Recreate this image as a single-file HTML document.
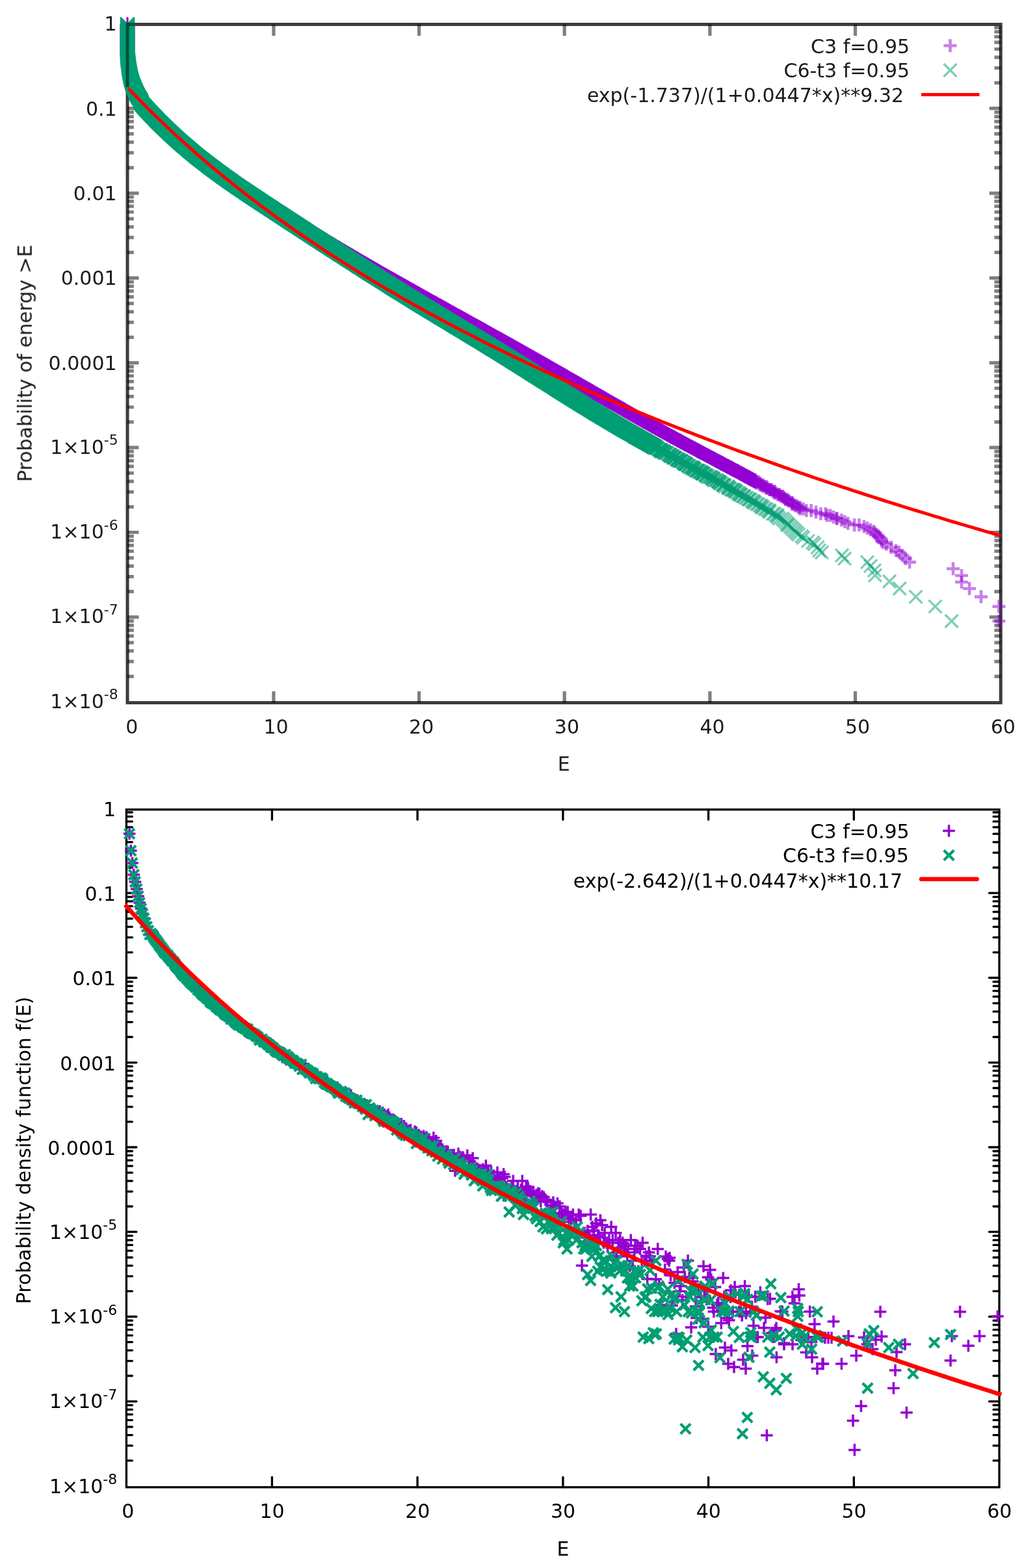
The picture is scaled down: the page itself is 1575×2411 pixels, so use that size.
<!DOCTYPE html>
<html lang="en"><head><meta charset="utf-8"><title>Energy distribution plots</title>
<style>html,body{margin:0;padding:0;background:#fff}body{width:1575px;height:2411px;overflow:hidden}svg{display:block}text{font-family:'DejaVu Sans','Liberation Sans',sans-serif;}</style>
</head><body>
<svg width="1575" height="2411" viewBox="0 0 1575 2411">
<defs>
<g id="pa1"><path d="M-10 0H10M0 -10V10" fill="none" stroke="#9400D3" stroke-width="4.6" stroke-opacity="0.50"/></g>
<g id="xa1"><path d="M-10 -10L10 10M-10 10L10 -10" fill="none" stroke="#009E73" stroke-width="3.3" stroke-opacity="0.50"/></g>
<g id="pa2"><path d="M-10 0H10M0 -10V10" fill="none" stroke="#9400D3" stroke-width="4.6" stroke-opacity="0.75"/></g>
<g id="xa2"><path d="M-10 -10L10 10M-10 10L10 -10" fill="none" stroke="#009E73" stroke-width="3.3" stroke-opacity="0.75"/></g>
<g id="pa3"><path d="M-10 0H10M0 -10V10" fill="none" stroke="#9400D3" stroke-width="4.6" stroke-opacity="0.90"/></g>
<g id="xa3"><path d="M-10 -10L10 10M-10 10L10 -10" fill="none" stroke="#009E73" stroke-width="3.3" stroke-opacity="0.90"/></g>
<g id="pb"><path d="M-9.3 0H9.3M0 -9.3V9.3" fill="none" stroke="#9400D3" stroke-width="3.5"/></g>
<g id="xb"><path d="M-6.2 -6.2L6.2 6.2M-6.2 6.2L6.2 -6.2" fill="none" stroke="#009E73" stroke-width="4.3" stroke-linecap="square"/></g>
<filter id="soft" x="-2%" y="-2%" width="104%" height="104%"><feGaussianBlur stdDeviation="0.6"/></filter>
</defs>
<rect width="1575" height="2411" fill="#fff"/>
<g id="plot1" filter="url(#soft)">
<g font-size="30" fill="#1a1a1a">
<text x="179.6" y="47.1" text-anchor="end">1</text>
<text x="179.6" y="177.5" text-anchor="end">0.1</text>
<text x="179.6" y="307.9" text-anchor="end">0.01</text>
<text x="179.6" y="438.2" text-anchor="end">0.001</text>
<text x="179.6" y="568.6" text-anchor="end">0.0001</text>
<text x="181.6" y="697.7" text-anchor="end">1×10<tspan font-size="21.9" dy="-13.5">-5</tspan></text>
<text x="181.6" y="828.0" text-anchor="end">1×10<tspan font-size="21.9" dy="-13.5">-6</tspan></text>
<text x="181.6" y="958.4" text-anchor="end">1×10<tspan font-size="21.9" dy="-13.5">-7</tspan></text>
<text x="181.6" y="1088.8" text-anchor="end">1×10<tspan font-size="21.9" dy="-13.5">-8</tspan></text>
<text x="202.9" y="1127.8" text-anchor="middle">0</text>
<text x="424.6" y="1127.8" text-anchor="middle">10</text>
<text x="648.2" y="1127.8" text-anchor="middle">20</text>
<text x="871.9" y="1127.8" text-anchor="middle">30</text>
<text x="1095.5" y="1127.8" text-anchor="middle">40</text>
<text x="1319.1" y="1127.8" text-anchor="middle">50</text>
<text x="1542.8" y="1127.8" text-anchor="middle">60</text>
<text x="867.2" y="1185" text-anchor="middle">E</text>
<text transform="translate(48.8,558.7) rotate(-90)" text-anchor="middle">Probability of energy &gt;E</text>
<text x="1399.2" y="82" text-anchor="end">C3 f=0.95</text>
<text x="1399.2" y="119" text-anchor="end">C6-t3 f=0.95</text>
<text x="1390" y="156.7" text-anchor="end">exp(-1.737)/(1+0.0447*x)**9.32</text>
</g>
<rect x="196.0" y="37.5" width="1343.2" height="1043.0" fill="none" stroke="#3c3c3c" stroke-width="5.00"/>
<path d="M420.9 1080.5v-17.5M420.9 37.5v17.5M644.6 1080.5v-17.5M644.6 37.5v17.5M868.2 1080.5v-17.5M868.2 37.5v17.5M1091.9 1080.5v-17.5M1091.9 37.5v17.5M1315.5 1080.5v-17.5M1315.5 37.5v17.5M196.0 127.4h9.8M1539.2 127.4h-9.8M196.0 104.5h9.8M1539.2 104.5h-9.8M196.0 88.2h9.8M1539.2 88.2h-9.8M196.0 75.5h9.8M1539.2 75.5h-9.8M196.0 65.2h9.8M1539.2 65.2h-9.8M196.0 56.5h9.8M1539.2 56.5h-9.8M196.0 48.9h9.8M1539.2 48.9h-9.8M196.0 42.3h9.8M1539.2 42.3h-9.8M196.0 166.7h17.5M1539.2 166.7h-17.5M196.0 257.8h9.8M1539.2 257.8h-9.8M196.0 234.8h9.8M1539.2 234.8h-9.8M196.0 218.6h9.8M1539.2 218.6h-9.8M196.0 205.9h9.8M1539.2 205.9h-9.8M196.0 195.6h9.8M1539.2 195.6h-9.8M196.0 186.9h9.8M1539.2 186.9h-9.8M196.0 179.3h9.8M1539.2 179.3h-9.8M196.0 172.6h9.8M1539.2 172.6h-9.8M196.0 297.1h17.5M1539.2 297.1h-17.5M196.0 388.2h9.8M1539.2 388.2h-9.8M196.0 365.2h9.8M1539.2 365.2h-9.8M196.0 348.9h9.8M1539.2 348.9h-9.8M196.0 336.3h9.8M1539.2 336.3h-9.8M196.0 326.0h9.8M1539.2 326.0h-9.8M196.0 317.2h9.8M1539.2 317.2h-9.8M196.0 309.7h9.8M1539.2 309.7h-9.8M196.0 303.0h9.8M1539.2 303.0h-9.8M196.0 427.4h17.5M1539.2 427.4h-17.5M196.0 518.6h9.8M1539.2 518.6h-9.8M196.0 495.6h9.8M1539.2 495.6h-9.8M196.0 479.3h9.8M1539.2 479.3h-9.8M196.0 466.7h9.8M1539.2 466.7h-9.8M196.0 456.3h9.8M1539.2 456.3h-9.8M196.0 447.6h9.8M1539.2 447.6h-9.8M196.0 440.1h9.8M1539.2 440.1h-9.8M196.0 433.4h9.8M1539.2 433.4h-9.8M196.0 557.8h17.5M1539.2 557.8h-17.5M196.0 648.9h9.8M1539.2 648.9h-9.8M196.0 626.0h9.8M1539.2 626.0h-9.8M196.0 609.7h9.8M1539.2 609.7h-9.8M196.0 597.0h9.8M1539.2 597.0h-9.8M196.0 586.7h9.8M1539.2 586.7h-9.8M196.0 578.0h9.8M1539.2 578.0h-9.8M196.0 570.4h9.8M1539.2 570.4h-9.8M196.0 563.8h9.8M1539.2 563.8h-9.8M196.0 688.2h17.5M1539.2 688.2h-17.5M196.0 779.3h9.8M1539.2 779.3h-9.8M196.0 756.3h9.8M1539.2 756.3h-9.8M196.0 740.1h9.8M1539.2 740.1h-9.8M196.0 727.4h9.8M1539.2 727.4h-9.8M196.0 717.1h9.8M1539.2 717.1h-9.8M196.0 708.4h9.8M1539.2 708.4h-9.8M196.0 700.8h9.8M1539.2 700.8h-9.8M196.0 694.1h9.8M1539.2 694.1h-9.8M196.0 818.5h17.5M1539.2 818.5h-17.5M196.0 909.7h9.8M1539.2 909.7h-9.8M196.0 886.7h9.8M1539.2 886.7h-9.8M196.0 870.4h9.8M1539.2 870.4h-9.8M196.0 857.8h9.8M1539.2 857.8h-9.8M196.0 847.5h9.8M1539.2 847.5h-9.8M196.0 838.7h9.8M1539.2 838.7h-9.8M196.0 831.2h9.8M1539.2 831.2h-9.8M196.0 824.5h9.8M1539.2 824.5h-9.8M196.0 948.9h17.5M1539.2 948.9h-17.5M196.0 1040.1h9.8M1539.2 1040.1h-9.8M196.0 1017.1h9.8M1539.2 1017.1h-9.8M196.0 1000.8h9.8M1539.2 1000.8h-9.8M196.0 988.2h9.8M1539.2 988.2h-9.8M196.0 977.8h9.8M1539.2 977.8h-9.8M196.0 969.1h9.8M1539.2 969.1h-9.8M196.0 961.6h9.8M1539.2 961.6h-9.8M196.0 954.9h9.8M1539.2 954.9h-9.8" fill="none" stroke="rgba(0,0,0,0.5)" stroke-width="5.20" stroke-linecap="butt"/>
<g id="c3a"><polygon points="206.0,37.5 206.0,60.0 206.0,86.0 208.5,106.0 211.0,119.0 213.5,128.0 216.0,134.0 218.5,140.0 221.0,145.5 223.5,150.0 226.0,153.5 228.5,160.2 232.5,164.7 236.5,169.0 240.5,173.3 244.5,177.5 248.5,181.7 252.5,185.8 256.5,189.8 260.5,193.7 264.5,197.6 268.5,201.4 272.5,205.2 276.5,208.9 280.5,212.6 284.5,216.2 288.5,219.7 292.5,223.2 296.5,226.6 300.5,230.0 304.5,233.4 308.5,236.7 312.5,239.8 316.5,242.9 320.5,245.9 324.5,248.9 328.5,251.8 332.5,254.7 336.5,257.6 340.5,260.4 344.5,263.2 348.5,266.0 352.5,268.8 356.5,271.5 360.5,274.2 364.5,276.8 368.5,279.5 372.5,282.1 376.5,284.7 380.5,287.3 384.5,289.8 388.5,292.4 392.5,294.9 396.5,297.4 400.5,299.9 404.5,302.4 408.5,304.9 412.5,307.4 416.5,309.9 420.5,312.3 424.5,314.8 428.5,317.3 432.5,319.7 436.5,322.2 440.5,324.7 444.5,327.1 448.5,329.6 452.5,332.1 456.5,334.5 460.5,337.0 464.5,339.6 468.5,342.2 472.5,344.8 476.5,347.4 480.5,350.0 484.5,352.7 488.5,355.3 492.5,358.1 496.5,360.5 500.5,363.0 504.5,365.4 508.5,367.9 512.5,370.3 516.5,372.8 520.5,375.2 524.5,377.6 528.5,380.0 532.5,382.4 536.5,384.8 540.5,387.1 544.5,389.5 548.5,391.9 552.5,394.2 556.5,396.6 560.5,398.9 564.5,401.3 568.5,403.6 572.5,405.9 576.5,408.2 580.5,410.6 584.5,412.9 588.5,415.2 592.5,417.5 596.5,419.8 600.5,422.1 604.5,424.3 608.5,426.6 612.5,428.9 616.5,431.2 620.5,433.4 624.5,435.7 628.5,437.9 632.5,440.2 636.5,442.5 640.5,444.7 644.5,446.9 648.5,449.2 652.5,451.4 656.5,453.7 660.5,455.9 664.5,458.1 668.5,460.4 672.5,462.6 676.5,464.8 680.5,467.0 684.5,469.3 688.5,471.5 692.5,473.7 696.5,475.9 700.5,478.1 704.5,480.4 708.5,482.6 712.5,484.8 716.5,487.0 720.5,489.2 724.5,491.4 728.5,493.7 732.5,495.9 736.5,498.1 740.5,500.3 744.5,502.5 748.5,504.7 752.5,506.9 756.5,509.2 760.5,511.4 764.5,513.6 768.5,515.8 772.5,518.1 776.5,520.3 780.5,522.5 784.5,524.7 788.5,527.0 792.5,529.2 796.5,531.4 800.5,533.7 804.5,535.9 808.5,538.1 812.5,540.4 816.5,542.6 820.5,544.9 824.5,547.1 828.5,549.4 832.5,551.6 836.5,553.9 840.5,556.2 844.5,558.4 848.5,560.7 852.5,563.0 856.5,565.3 860.5,567.6 864.5,569.8 868.5,572.1 872.5,574.4 876.5,576.7 880.5,579.0 884.5,581.3 888.5,583.6 892.5,585.9 896.5,588.2 900.5,590.5 904.5,592.8 908.5,595.1 912.5,597.4 916.5,599.7 920.5,602.0 924.5,604.3 928.5,606.6 932.5,608.9 936.5,611.2 940.5,613.5 944.5,615.8 948.5,618.1 952.5,620.4 956.5,622.7 960.5,624.9 964.5,627.2 968.5,629.5 972.5,631.8 976.5,634.1 980.5,636.3 984.5,638.6 988.5,640.8 992.5,643.1 996.5,645.3 1000.5,647.6 1004.5,649.8 1008.5,652.1 1012.5,654.3 1016.5,656.5 1020.5,658.8 1024.5,661.0 1028.5,663.2 1032.5,665.4 1036.5,667.6 1040.5,669.8 1044.5,672.0 1048.5,674.1 1052.5,676.3 1056.5,678.5 1060.5,680.6 1064.5,682.8 1068.5,684.9 1072.5,687.1 1076.5,689.2 1080.5,691.3 1084.5,693.5 1088.5,695.6 1092.5,697.7 1096.5,699.8 1100.5,701.9 1104.5,704.1 1108.5,706.2 1112.5,708.3 1116.5,710.4 1120.5,712.5 1124.5,714.6 1128.5,716.8 1132.5,718.9 1136.5,721.0 1140.5,723.1 1144.5,725.2 1148.5,727.4 1152.5,729.5 1156.5,731.7 1160.5,733.9 1164.5,736.0 1168.5,738.2 1171.6,740.0 1151.6,740.0 1148.5,738.2 1144.5,736.0 1140.5,733.9 1136.5,731.7 1132.5,729.5 1128.5,727.4 1124.5,725.2 1120.5,723.1 1116.5,721.0 1112.5,718.9 1108.5,716.8 1104.5,714.6 1100.5,712.5 1096.5,710.4 1092.5,708.3 1088.5,706.2 1084.5,704.1 1080.5,701.9 1076.5,699.8 1072.5,697.7 1068.5,695.6 1064.5,693.5 1060.5,691.3 1056.5,689.2 1052.5,687.1 1048.5,684.9 1044.5,682.8 1040.5,680.6 1036.5,678.5 1032.5,676.3 1028.5,674.1 1024.5,672.0 1020.5,669.8 1016.5,667.6 1012.5,665.4 1008.5,663.2 1004.5,661.0 1000.5,658.8 996.5,656.5 992.5,654.3 988.5,652.1 984.5,649.8 980.5,647.6 976.5,645.3 972.5,643.1 968.5,640.8 964.5,638.6 960.5,636.3 956.5,634.1 952.5,631.8 948.5,629.5 944.5,627.2 940.5,624.9 936.5,622.7 932.5,620.4 928.5,618.1 924.5,615.8 920.5,613.5 916.5,611.2 912.5,608.9 908.5,606.6 904.5,604.3 900.5,602.0 896.5,599.7 892.5,597.4 888.5,595.1 884.5,592.8 880.5,590.5 876.5,588.2 872.5,585.9 868.5,583.6 864.5,581.3 860.5,579.0 856.5,576.7 852.5,574.4 848.5,572.1 844.5,569.8 840.5,567.6 836.5,565.3 832.5,563.0 828.5,560.7 824.5,558.4 820.5,556.2 816.5,553.9 812.5,551.6 808.5,549.4 804.5,547.1 800.5,544.9 796.5,542.6 792.5,540.4 788.5,538.1 784.5,535.9 780.5,533.7 776.5,531.4 772.5,529.2 768.5,527.0 764.5,524.7 760.5,522.5 756.5,520.3 752.5,518.1 748.5,515.8 744.5,513.6 740.5,511.4 736.5,509.2 732.5,506.9 728.5,504.7 724.5,502.5 720.5,500.3 716.5,498.1 712.5,495.9 708.5,493.7 704.5,491.4 700.5,489.2 696.5,487.0 692.5,484.8 688.5,482.6 684.5,480.4 680.5,478.1 676.5,475.9 672.5,473.7 668.5,471.5 664.5,469.3 660.5,467.0 656.5,464.8 652.5,462.6 648.5,460.4 644.5,458.1 640.5,455.9 636.5,453.7 632.5,451.4 628.5,449.2 624.5,446.9 620.5,444.7 616.5,442.5 612.5,440.2 608.5,437.9 604.5,435.7 600.5,433.4 596.5,431.2 592.5,428.9 588.5,426.6 584.5,424.3 580.5,422.1 576.5,419.8 572.5,417.5 568.5,415.2 564.5,412.9 560.5,410.6 556.5,408.2 552.5,405.9 548.5,403.6 544.5,401.3 540.5,398.9 536.5,396.6 532.5,394.2 528.5,391.9 524.5,389.5 520.5,387.1 516.5,384.8 512.5,382.4 508.5,380.0 504.5,377.6 500.5,375.2 496.5,372.8 492.5,370.3 488.5,367.9 484.5,365.4 480.5,363.0 476.5,360.5 472.5,358.1 468.5,355.3 464.5,352.7 460.5,350.0 456.5,347.4 452.5,344.8 448.5,342.2 444.5,339.6 440.5,337.0 436.5,334.5 432.5,332.1 428.5,329.6 424.5,327.1 420.5,324.7 416.5,322.2 412.5,319.7 408.5,317.3 404.5,314.8 400.5,312.3 396.5,309.9 392.5,307.4 388.5,304.9 384.5,302.4 380.5,299.9 376.5,297.4 372.5,294.9 368.5,292.4 364.5,289.8 360.5,287.3 356.5,284.7 352.5,282.1 348.5,279.5 344.5,276.8 340.5,274.2 336.5,271.5 332.5,268.8 328.5,266.0 324.5,263.2 320.5,260.4 316.5,257.6 312.5,254.7 308.5,251.8 304.5,248.9 300.5,245.9 296.5,242.9 292.5,239.8 288.5,236.7 284.5,233.4 280.5,230.0 276.5,226.6 272.5,223.2 268.5,219.7 264.5,216.2 260.5,212.6 256.5,208.9 252.5,205.2 248.5,201.4 244.5,197.6 240.5,193.7 236.5,189.8 232.5,185.8 228.5,181.7 224.5,177.5 220.5,173.3 216.5,169.0 212.5,164.7 208.5,160.2 206.0,153.5 203.5,150.0 201.0,145.5 198.5,140.0 196.0,134.0 193.5,128.0 191.0,119.0 188.5,106.0 186.0,86.0 186.0,60.0 186.0,37.5" fill="#9400D3" stroke="#9400D3" stroke-width="3.2" stroke-linejoin="round"/><polygon points="196.0,27.5 196.0,50.0 196.0,76.0 198.5,96.0 201.0,109.0 203.5,118.0 206.0,124.0 208.5,130.0 211.0,135.5 213.5,140.0 216.0,143.5 218.5,150.2 222.5,154.7 226.5,159.0 230.5,163.3 234.5,167.5 238.5,171.7 242.5,175.8 246.5,179.8 250.5,183.7 254.5,187.6 258.5,191.4 262.5,195.2 266.5,198.9 270.5,202.6 274.5,206.2 278.5,209.7 282.5,213.2 286.5,216.6 290.5,220.0 294.5,223.4 298.5,226.7 302.5,229.8 306.5,232.9 310.5,235.9 314.5,238.9 318.5,241.8 322.5,244.7 326.5,247.6 330.5,250.4 334.5,253.2 338.5,256.0 342.5,258.8 346.5,261.5 350.5,264.2 354.5,266.8 358.5,269.5 362.5,272.1 366.5,274.7 370.5,277.3 374.5,279.8 378.5,282.4 382.5,284.9 386.5,287.4 390.5,289.9 394.5,292.4 398.5,294.9 402.5,297.4 406.5,299.9 410.5,302.3 414.5,304.8 418.5,307.3 422.5,309.7 426.5,312.2 430.5,314.7 434.5,317.1 438.5,319.6 442.5,322.1 446.5,324.5 450.5,327.0 454.5,329.6 458.5,332.2 462.5,334.8 466.5,337.4 470.5,340.0 474.5,342.7 478.5,345.3 482.5,348.1 486.5,350.5 490.5,353.0 494.5,355.4 498.5,357.9 502.5,360.3 506.5,362.8 510.5,365.2 514.5,367.6 518.5,370.0 522.5,372.4 526.5,374.8 530.5,377.1 534.5,379.5 538.5,381.9 542.5,384.2 546.5,386.6 550.5,388.9 554.5,391.3 558.5,393.6 562.5,395.9 566.5,398.2 570.5,400.6 574.5,402.9 578.5,405.2 582.5,407.5 586.5,409.8 590.5,412.1 594.5,414.3 598.5,416.6 602.5,418.9 606.5,421.2 610.5,423.4 614.5,425.7 618.5,427.9 622.5,430.2 626.5,432.5 630.5,434.7 634.5,436.9 638.5,439.2 642.5,441.4 646.5,443.7 650.5,445.9 654.5,448.1 658.5,450.4 662.5,452.6 666.5,454.8 670.5,457.0 674.5,459.3 678.5,461.5 682.5,463.7 686.5,465.9 690.5,468.1 694.5,470.4 698.5,472.6 702.5,474.8 706.5,477.0 710.5,479.2 714.5,481.4 718.5,483.7 722.5,485.9 726.5,488.1 730.5,490.3 734.5,492.5 738.5,494.7 742.5,496.9 746.5,499.2 750.5,501.4 754.5,503.6 758.5,505.8 762.5,508.1 766.5,510.3 770.5,512.5 774.5,514.7 778.5,517.0 782.5,519.2 786.5,521.4 790.5,523.7 794.5,525.9 798.5,528.1 802.5,530.4 806.5,532.6 810.5,534.9 814.5,537.1 818.5,539.4 822.5,541.6 826.5,543.9 830.5,546.2 834.5,548.4 838.5,550.7 842.5,553.0 846.5,555.3 850.5,557.6 854.5,559.8 858.5,562.1 862.5,564.4 866.5,566.7 870.5,569.0 874.5,571.3 878.5,573.6 882.5,575.9 886.5,578.2 890.5,580.5 894.5,582.8 898.5,585.1 902.5,587.4 906.5,589.7 910.5,592.0 914.5,594.3 918.5,596.6 922.5,598.9 926.5,601.2 930.5,603.5 934.5,605.8 938.5,608.1 942.5,610.4 946.5,612.7 950.5,614.9 954.5,617.2 958.5,619.5 962.5,621.8 966.5,624.1 970.5,626.3 974.5,628.6 978.5,630.8 982.5,633.1 986.5,635.3 990.5,637.6 994.5,639.8 998.5,642.1 1002.5,644.3 1006.5,646.5 1010.5,648.8 1014.5,651.0 1018.5,653.2 1022.5,655.4 1026.5,657.6 1030.5,659.8 1034.5,662.0 1038.5,664.1 1042.5,666.3 1046.5,668.5 1050.5,670.6 1054.5,672.8 1058.5,674.9 1062.5,677.1 1066.5,679.2 1070.5,681.3 1074.5,683.5 1078.5,685.6 1082.5,687.7 1086.5,689.8 1090.5,691.9 1094.5,694.1 1098.5,696.2 1102.5,698.3 1106.5,700.4 1110.5,702.5 1114.5,704.6 1118.5,706.8 1122.5,708.9 1126.5,711.0 1130.5,713.1 1134.5,715.2 1138.5,717.4 1142.5,719.5 1146.5,721.7 1150.5,723.9 1154.5,726.0 1158.5,728.2 1161.6,730.0 1161.6,750.0 1158.5,748.2 1154.5,746.0 1150.5,743.9 1146.5,741.7 1142.5,739.5 1138.5,737.4 1134.5,735.2 1130.5,733.1 1126.5,731.0 1122.5,728.9 1118.5,726.8 1114.5,724.6 1110.5,722.5 1106.5,720.4 1102.5,718.3 1098.5,716.2 1094.5,714.1 1090.5,711.9 1086.5,709.8 1082.5,707.7 1078.5,705.6 1074.5,703.5 1070.5,701.3 1066.5,699.2 1062.5,697.1 1058.5,694.9 1054.5,692.8 1050.5,690.6 1046.5,688.5 1042.5,686.3 1038.5,684.1 1034.5,682.0 1030.5,679.8 1026.5,677.6 1022.5,675.4 1018.5,673.2 1014.5,671.0 1010.5,668.8 1006.5,666.5 1002.5,664.3 998.5,662.1 994.5,659.8 990.5,657.6 986.5,655.3 982.5,653.1 978.5,650.8 974.5,648.6 970.5,646.3 966.5,644.1 962.5,641.8 958.5,639.5 954.5,637.2 950.5,634.9 946.5,632.7 942.5,630.4 938.5,628.1 934.5,625.8 930.5,623.5 926.5,621.2 922.5,618.9 918.5,616.6 914.5,614.3 910.5,612.0 906.5,609.7 902.5,607.4 898.5,605.1 894.5,602.8 890.5,600.5 886.5,598.2 882.5,595.9 878.5,593.6 874.5,591.3 870.5,589.0 866.5,586.7 862.5,584.4 858.5,582.1 854.5,579.8 850.5,577.6 846.5,575.3 842.5,573.0 838.5,570.7 834.5,568.4 830.5,566.2 826.5,563.9 822.5,561.6 818.5,559.4 814.5,557.1 810.5,554.9 806.5,552.6 802.5,550.4 798.5,548.1 794.5,545.9 790.5,543.7 786.5,541.4 782.5,539.2 778.5,537.0 774.5,534.7 770.5,532.5 766.5,530.3 762.5,528.1 758.5,525.8 754.5,523.6 750.5,521.4 746.5,519.2 742.5,516.9 738.5,514.7 734.5,512.5 730.5,510.3 726.5,508.1 722.5,505.9 718.5,503.7 714.5,501.4 710.5,499.2 706.5,497.0 702.5,494.8 698.5,492.6 694.5,490.4 690.5,488.1 686.5,485.9 682.5,483.7 678.5,481.5 674.5,479.3 670.5,477.0 666.5,474.8 662.5,472.6 658.5,470.4 654.5,468.1 650.5,465.9 646.5,463.7 642.5,461.4 638.5,459.2 634.5,456.9 630.5,454.7 626.5,452.5 622.5,450.2 618.5,447.9 614.5,445.7 610.5,443.4 606.5,441.2 602.5,438.9 598.5,436.6 594.5,434.3 590.5,432.1 586.5,429.8 582.5,427.5 578.5,425.2 574.5,422.9 570.5,420.6 566.5,418.2 562.5,415.9 558.5,413.6 554.5,411.3 550.5,408.9 546.5,406.6 542.5,404.2 538.5,401.9 534.5,399.5 530.5,397.1 526.5,394.8 522.5,392.4 518.5,390.0 514.5,387.6 510.5,385.2 506.5,382.8 502.5,380.3 498.5,377.9 494.5,375.4 490.5,373.0 486.5,370.5 482.5,368.1 478.5,365.3 474.5,362.7 470.5,360.0 466.5,357.4 462.5,354.8 458.5,352.2 454.5,349.6 450.5,347.0 446.5,344.5 442.5,342.1 438.5,339.6 434.5,337.1 430.5,334.7 426.5,332.2 422.5,329.7 418.5,327.3 414.5,324.8 410.5,322.3 406.5,319.9 402.5,317.4 398.5,314.9 394.5,312.4 390.5,309.9 386.5,307.4 382.5,304.9 378.5,302.4 374.5,299.8 370.5,297.3 366.5,294.7 362.5,292.1 358.5,289.5 354.5,286.8 350.5,284.2 346.5,281.5 342.5,278.8 338.5,276.0 334.5,273.2 330.5,270.4 326.5,267.6 322.5,264.7 318.5,261.8 314.5,258.9 310.5,255.9 306.5,252.9 302.5,249.8 298.5,246.7 294.5,243.4 290.5,240.0 286.5,236.6 282.5,233.2 278.5,229.7 274.5,226.2 270.5,222.6 266.5,218.9 262.5,215.2 258.5,211.4 254.5,207.6 250.5,203.7 246.5,199.8 242.5,195.8 238.5,191.7 234.5,187.5 230.5,183.3 226.5,179.0 222.5,174.7 218.5,170.2 216.0,163.5 213.5,160.0 211.0,155.5 208.5,150.0 206.0,144.0 203.5,138.0 201.0,129.0 198.5,116.0 196.0,96.0 196.0,70.0 196.0,47.5" fill="#9400D3" stroke="#9400D3" stroke-width="3.2" stroke-linejoin="round"/>
<use href="#pa2" x="1107.4" y="711.2"/><use href="#pa2" x="1109.9" y="711.2"/><use href="#pa2" x="1109.9" y="713.7"/><use href="#pa3" x="1112.3" y="713.7"/><use href="#pa1" x="1114.8" y="713.7"/><use href="#pa1" x="1114.8" y="716.1"/><use href="#pa3" x="1117.2" y="716.1"/><use href="#pa2" x="1119.7" y="716.1"/><use href="#pa1" x="1119.7" y="718.6"/><use href="#pa3" x="1122.2" y="718.6"/><use href="#pa1" x="1124.6" y="718.6"/><use href="#pa2" x="1124.6" y="721.0"/><use href="#pa3" x="1127.1" y="721.0"/><use href="#pa2" x="1129.6" y="723.5"/><use href="#pa3" x="1132.0" y="723.5"/><use href="#pa1" x="1134.5" y="723.5"/><use href="#pa2" x="1134.5" y="726.0"/><use href="#pa3" x="1136.9" y="726.0"/><use href="#pa2" x="1139.4" y="728.4"/><use href="#pa3" x="1141.9" y="728.4"/><use href="#pa2" x="1144.3" y="730.9"/><use href="#pa2" x="1146.8" y="730.9"/><use href="#pa2" x="1146.8" y="733.3"/><use href="#pa1" x="1149.2" y="733.3"/><use href="#pa2" x="1151.7" y="733.3"/><use href="#pa1" x="1151.7" y="735.8"/><use href="#pa2" x="1154.2" y="735.8"/><use href="#pa1" x="1156.6" y="735.8"/><use href="#pa2" x="1159.1" y="738.3"/><use href="#pa2" x="1161.5" y="738.3"/><use href="#pa1" x="1161.5" y="740.7"/><use href="#pa2" x="1164.0" y="740.7"/><use href="#pa1" x="1164.0" y="743.2"/><use href="#pa1" x="1166.5" y="740.7"/><use href="#pa2" x="1168.9" y="743.2"/><use href="#pa1" x="1168.9" y="745.7"/><use href="#pa2" x="1171.4" y="745.7"/><use href="#pa1" x="1173.8" y="745.7"/><use href="#pa1" x="1173.8" y="748.1"/><use href="#pa1" x="1176.3" y="748.1"/><use href="#pa1" x="1178.8" y="748.1"/><use href="#pa2" x="1178.8" y="750.6"/><use href="#pa1" x="1181.2" y="750.6"/><use href="#pa2" x="1183.7" y="753.0"/><use href="#pa2" x="1186.2" y="753.0"/><use href="#pa1" x="1188.6" y="755.5"/><use href="#pa2" x="1191.1" y="755.5"/><use href="#pa1" x="1191.1" y="758.0"/><use href="#pa1" x="1193.5" y="758.0"/><use href="#pa1" x="1196.0" y="760.4"/><use href="#pa2" x="1198.5" y="760.4"/><use href="#pa1" x="1200.9" y="762.9"/><use href="#pa2" x="1203.4" y="762.9"/><use href="#pa2" x="1205.8" y="765.3"/><use href="#pa2" x="1208.3" y="767.8"/><use href="#pa1" x="1210.8" y="767.8"/><use href="#pa2" x="1213.2" y="770.3"/><use href="#pa2" x="1218.1" y="772.7"/><use href="#pa1" x="1218.1" y="775.2"/><use href="#pa1" x="1220.6" y="775.2"/><use href="#pa1" x="1223.1" y="777.6"/><use href="#pa1" x="1225.5" y="777.6"/><use href="#pa1" x="1228.0" y="780.1"/><use href="#pa1" x="1230.5" y="780.1"/><use href="#pa1" x="1230.5" y="782.6"/><use href="#pa1" x="1235.4" y="782.6"/><use href="#pa1" x="1240.3" y="785.0"/><use href="#pa1" x="1247.7" y="785.0"/><use href="#pa1" x="1255.1" y="787.5"/><use href="#pa1" x="1262.4" y="789.9"/><use href="#pa1" x="1269.8" y="789.9"/><use href="#pa1" x="1272.3" y="792.4"/><use href="#pa1" x="1277.2" y="792.4"/><use href="#pa1" x="1282.1" y="794.9"/><use href="#pa2" x="1287.1" y="797.3"/><use href="#pa1" x="1294.4" y="799.8"/><use href="#pa1" x="1299.4" y="802.3"/><use href="#pa1" x="1304.3" y="804.7"/><use href="#pa1" x="1314.1" y="807.2"/><use href="#pa1" x="1321.5" y="807.2"/><use href="#pa1" x="1328.9" y="809.6"/><use href="#pa1" x="1333.8" y="812.1"/><use href="#pa1" x="1338.7" y="814.6"/><use href="#pa1" x="1343.7" y="817.0"/><use href="#pa1" x="1346.1" y="819.5"/><use href="#pa1" x="1348.6" y="821.9"/><use href="#pa1" x="1351.0" y="824.4"/><use href="#pa1" x="1353.5" y="826.9"/><use href="#pa1" x="1356.0" y="831.8"/><use href="#pa1" x="1358.4" y="834.2"/><use href="#pa1" x="1363.3" y="836.7"/><use href="#pa1" x="1370.7" y="841.6"/><use href="#pa1" x="1378.1" y="846.5"/><use href="#pa1" x="1383.0" y="849.0"/><use href="#pa1" x="1387.9" y="853.9"/><use href="#pa1" x="1392.9" y="858.9"/><use href="#pa1" x="1399.0" y="864.4"/><use href="#pa1" x="1466.0" y="874.5"/><use href="#pa1" x="1479.0" y="885.0"/><use href="#pa1" x="1479.0" y="895.0"/><use href="#pa1" x="1491.0" y="905.0"/><use href="#pa1" x="1509.0" y="917.6"/><use href="#pa1" x="1536.4" y="932.6"/><use href="#pa1" x="1536.4" y="955.0"/></g>
<g id="c6a"><polygon points="206.0,27.5 206.0,50.0 206.0,76.0 208.5,96.0 211.0,109.0 213.5,118.0 216.0,124.0 218.5,130.0 221.0,135.5 223.5,140.0 226.0,143.5 228.5,150.2 232.5,154.7 236.5,159.0 240.5,163.3 244.5,167.5 248.5,171.7 252.5,175.8 256.5,179.8 260.5,183.7 264.5,187.6 268.5,191.4 272.5,195.2 276.5,198.9 280.5,202.6 284.5,206.2 288.5,209.7 292.5,213.2 296.5,216.6 300.5,220.0 304.5,223.4 308.5,226.7 312.5,229.9 316.5,233.2 320.5,236.3 324.5,239.5 328.5,242.5 332.5,245.6 336.5,248.6 340.5,251.6 344.5,254.6 348.5,257.5 352.5,260.4 356.5,263.3 360.5,266.1 364.5,268.9 368.5,271.7 372.5,274.5 376.5,277.3 380.5,280.0 384.5,282.7 388.5,285.4 392.5,288.1 396.5,290.8 400.5,293.4 404.5,296.1 408.5,298.7 412.5,301.4 416.5,304.0 420.5,306.6 424.5,309.2 428.5,311.9 432.5,314.5 436.5,317.1 440.5,319.7 444.5,322.3 448.5,325.0 452.5,327.6 456.5,330.2 460.5,332.8 464.5,335.4 468.5,338.0 472.5,340.6 476.5,343.2 480.5,345.8 484.5,348.5 488.5,351.1 492.5,353.7 496.5,356.3 500.5,358.9 504.5,361.5 508.5,364.1 512.5,366.7 516.5,369.2 520.5,371.8 524.5,374.4 528.5,377.0 532.5,379.6 536.5,382.2 540.5,384.7 544.5,387.3 548.5,389.9 552.5,392.5 556.5,395.0 560.5,397.6 564.5,400.1 568.5,402.7 572.5,405.3 576.5,407.8 580.5,410.3 584.5,412.9 588.5,415.4 592.5,418.0 596.5,420.5 600.5,423.0 604.5,425.5 608.5,428.0 612.5,430.6 616.5,433.1 620.5,435.6 624.5,438.1 628.5,440.5 632.5,443.0 636.5,445.5 640.5,448.0 644.5,450.4 648.5,452.9 652.5,455.4 656.5,457.8 660.5,460.3 664.5,462.7 668.5,465.1 672.5,467.6 676.5,470.0 680.5,472.4 684.5,474.8 688.5,477.3 692.5,479.7 696.5,482.1 700.5,484.5 704.5,486.9 708.5,489.3 712.5,491.8 716.5,494.2 720.5,496.6 724.5,499.0 728.5,501.4 732.5,503.8 736.5,506.3 740.5,508.7 744.5,511.1 748.5,513.5 752.5,516.0 756.5,518.4 760.5,520.9 764.5,523.3 768.5,525.8 772.5,528.2 776.5,530.7 780.5,533.2 784.5,535.6 788.5,538.1 792.5,540.6 796.5,543.1 800.5,545.6 804.5,548.1 808.5,550.6 812.5,553.2 816.5,555.7 820.5,558.2 824.5,560.7 828.5,563.3 832.5,565.8 836.5,568.3 840.5,570.9 844.5,573.4 848.5,575.9 852.5,578.5 856.5,581.0 860.5,583.5 864.5,586.0 868.5,588.6 872.5,591.1 876.5,593.6 880.5,596.1 884.5,598.6 888.5,601.1 892.5,603.6 896.5,606.1 900.5,608.6 904.5,611.1 908.5,613.6 912.5,616.0 916.5,618.5 920.5,620.9 924.5,623.3 928.5,625.8 932.5,628.2 936.5,630.6 940.5,633.0 944.5,635.4 948.5,637.7 952.5,640.1 956.5,642.5 960.5,644.8 964.5,647.1 968.5,649.5 972.5,651.8 976.5,654.1 980.5,656.4 984.5,658.7 988.5,661.0 992.5,663.3 996.5,665.6 1000.5,667.8 1004.5,670.1 1008.5,672.4 1012.5,674.6 1016.5,676.8 996.5,696.8 992.5,694.6 988.5,692.4 984.5,690.1 980.5,687.8 976.5,685.6 972.5,683.3 968.5,681.0 964.5,678.7 960.5,676.4 956.5,674.1 952.5,671.8 948.5,669.5 944.5,667.1 940.5,664.8 936.5,662.5 932.5,660.1 928.5,657.7 924.5,655.4 920.5,653.0 916.5,650.6 912.5,648.2 908.5,645.8 904.5,643.3 900.5,640.9 896.5,638.5 892.5,636.0 888.5,633.6 884.5,631.1 880.5,628.6 876.5,626.1 872.5,623.6 868.5,621.1 864.5,618.6 860.5,616.1 856.5,613.6 852.5,611.1 848.5,608.6 844.5,606.0 840.5,603.5 836.5,601.0 832.5,598.5 828.5,595.9 824.5,593.4 820.5,590.9 816.5,588.3 812.5,585.8 808.5,583.3 804.5,580.7 800.5,578.2 796.5,575.7 792.5,573.2 788.5,570.6 784.5,568.1 780.5,565.6 776.5,563.1 772.5,560.6 768.5,558.1 764.5,555.6 760.5,553.2 756.5,550.7 752.5,548.2 748.5,545.8 744.5,543.3 740.5,540.9 736.5,538.4 732.5,536.0 728.5,533.5 724.5,531.1 720.5,528.7 716.5,526.3 712.5,523.8 708.5,521.4 704.5,519.0 700.5,516.6 696.5,514.2 692.5,511.8 688.5,509.3 684.5,506.9 680.5,504.5 676.5,502.1 672.5,499.7 668.5,497.3 664.5,494.8 660.5,492.4 656.5,490.0 652.5,487.6 648.5,485.1 644.5,482.7 640.5,480.3 636.5,477.8 632.5,475.4 628.5,472.9 624.5,470.4 620.5,468.0 616.5,465.5 612.5,463.0 608.5,460.5 604.5,458.1 600.5,455.6 596.5,453.1 592.5,450.6 588.5,448.0 584.5,445.5 580.5,443.0 576.5,440.5 572.5,438.0 568.5,435.4 564.5,432.9 560.5,430.3 556.5,427.8 552.5,425.3 548.5,422.7 544.5,420.1 540.5,417.6 536.5,415.0 532.5,412.5 528.5,409.9 524.5,407.3 520.5,404.7 516.5,402.2 512.5,399.6 508.5,397.0 504.5,394.4 500.5,391.8 496.5,389.2 492.5,386.7 488.5,384.1 484.5,381.5 480.5,378.9 476.5,376.3 472.5,373.7 468.5,371.1 464.5,368.5 460.5,365.8 456.5,363.2 452.5,360.6 448.5,358.0 444.5,355.4 440.5,352.8 436.5,350.2 432.5,347.6 428.5,345.0 424.5,342.3 420.5,339.7 416.5,337.1 412.5,334.5 408.5,331.9 404.5,329.2 400.5,326.6 396.5,324.0 392.5,321.4 388.5,318.7 384.5,316.1 380.5,313.4 376.5,310.8 372.5,308.1 368.5,305.4 364.5,302.7 360.5,300.0 356.5,297.3 352.5,294.5 348.5,291.7 344.5,288.9 340.5,286.1 336.5,283.3 332.5,280.4 328.5,277.5 324.5,274.6 320.5,271.6 316.5,268.6 312.5,265.6 308.5,262.5 304.5,259.5 300.5,256.3 296.5,253.2 292.5,249.9 288.5,246.7 284.5,243.4 280.5,240.0 276.5,236.6 272.5,233.2 268.5,229.7 264.5,226.2 260.5,222.6 256.5,218.9 252.5,215.2 248.5,211.4 244.5,207.6 240.5,203.7 236.5,199.8 232.5,195.8 228.5,191.7 224.5,187.5 220.5,183.3 216.5,179.0 212.5,174.7 208.5,170.2 206.0,163.5 203.5,160.0 201.0,155.5 198.5,150.0 196.0,144.0 193.5,138.0 191.0,129.0 188.5,116.0 186.0,96.0 186.0,70.0 186.0,47.5" fill="#009E73" stroke="#009E73" stroke-width="2.6" stroke-linejoin="round"/><polygon points="186.0,27.5 186.0,50.0 186.0,76.0 188.5,96.0 191.0,109.0 193.5,118.0 196.0,124.0 198.5,130.0 201.0,135.5 203.5,140.0 206.0,143.5 208.5,150.2 212.5,154.7 216.5,159.0 220.5,163.3 224.5,167.5 228.5,171.7 232.5,175.8 236.5,179.8 240.5,183.7 244.5,187.6 248.5,191.4 252.5,195.2 256.5,198.9 260.5,202.6 264.5,206.2 268.5,209.7 272.5,213.2 276.5,216.6 280.5,220.0 284.5,223.4 288.5,226.7 292.5,229.9 296.5,233.2 300.5,236.3 304.5,239.5 308.5,242.5 312.5,245.6 316.5,248.6 320.5,251.6 324.5,254.6 328.5,257.5 332.5,260.4 336.5,263.3 340.5,266.1 344.5,268.9 348.5,271.7 352.5,274.5 356.5,277.3 360.5,280.0 364.5,282.7 368.5,285.4 372.5,288.1 376.5,290.8 380.5,293.4 384.5,296.1 388.5,298.7 392.5,301.4 396.5,304.0 400.5,306.6 404.5,309.2 408.5,311.9 412.5,314.5 416.5,317.1 420.5,319.7 424.5,322.3 428.5,325.0 432.5,327.6 436.5,330.2 440.5,332.8 444.5,335.4 448.5,338.0 452.5,340.6 456.5,343.2 460.5,345.8 464.5,348.5 468.5,351.1 472.5,353.7 476.5,356.3 480.5,358.9 484.5,361.5 488.5,364.1 492.5,366.7 496.5,369.2 500.5,371.8 504.5,374.4 508.5,377.0 512.5,379.6 516.5,382.2 520.5,384.7 524.5,387.3 528.5,389.9 532.5,392.5 536.5,395.0 540.5,397.6 544.5,400.1 548.5,402.7 552.5,405.3 556.5,407.8 560.5,410.3 564.5,412.9 568.5,415.4 572.5,418.0 576.5,420.5 580.5,423.0 584.5,425.5 588.5,428.0 592.5,430.6 596.5,433.1 600.5,435.6 604.5,438.1 608.5,440.5 612.5,443.0 616.5,445.5 620.5,448.0 624.5,450.4 628.5,452.9 632.5,455.4 636.5,457.8 640.5,460.3 644.5,462.7 648.5,465.1 652.5,467.6 656.5,470.0 660.5,472.4 664.5,474.8 668.5,477.3 672.5,479.7 676.5,482.1 680.5,484.5 684.5,486.9 688.5,489.3 692.5,491.8 696.5,494.2 700.5,496.6 704.5,499.0 708.5,501.4 712.5,503.8 716.5,506.3 720.5,508.7 724.5,511.1 728.5,513.5 732.5,516.0 736.5,518.4 740.5,520.9 744.5,523.3 748.5,525.8 752.5,528.2 756.5,530.7 760.5,533.2 764.5,535.6 768.5,538.1 772.5,540.6 776.5,543.1 780.5,545.6 784.5,548.1 788.5,550.6 792.5,553.2 796.5,555.7 800.5,558.2 804.5,560.7 808.5,563.3 812.5,565.8 816.5,568.3 820.5,570.9 824.5,573.4 828.5,575.9 832.5,578.5 836.5,581.0 840.5,583.5 844.5,586.0 848.5,588.6 852.5,591.1 856.5,593.6 860.5,596.1 864.5,598.6 868.5,601.1 872.5,603.6 876.5,606.1 880.5,608.6 884.5,611.1 888.5,613.6 892.5,616.0 896.5,618.5 900.5,620.9 904.5,623.3 908.5,625.8 912.5,628.2 916.5,630.6 920.5,633.0 924.5,635.4 928.5,637.7 932.5,640.1 936.5,642.5 940.5,644.8 944.5,647.1 948.5,649.5 952.5,651.8 956.5,654.1 960.5,656.4 964.5,658.7 968.5,661.0 972.5,663.3 976.5,665.6 980.5,667.8 984.5,670.1 988.5,672.4 992.5,674.6 996.5,676.8 1016.5,696.8 1012.5,694.6 1008.5,692.4 1004.5,690.1 1000.5,687.8 996.5,685.6 992.5,683.3 988.5,681.0 984.5,678.7 980.5,676.4 976.5,674.1 972.5,671.8 968.5,669.5 964.5,667.1 960.5,664.8 956.5,662.5 952.5,660.1 948.5,657.7 944.5,655.4 940.5,653.0 936.5,650.6 932.5,648.2 928.5,645.8 924.5,643.3 920.5,640.9 916.5,638.5 912.5,636.0 908.5,633.6 904.5,631.1 900.5,628.6 896.5,626.1 892.5,623.6 888.5,621.1 884.5,618.6 880.5,616.1 876.5,613.6 872.5,611.1 868.5,608.6 864.5,606.0 860.5,603.5 856.5,601.0 852.5,598.5 848.5,595.9 844.5,593.4 840.5,590.9 836.5,588.3 832.5,585.8 828.5,583.3 824.5,580.7 820.5,578.2 816.5,575.7 812.5,573.2 808.5,570.6 804.5,568.1 800.5,565.6 796.5,563.1 792.5,560.6 788.5,558.1 784.5,555.6 780.5,553.2 776.5,550.7 772.5,548.2 768.5,545.8 764.5,543.3 760.5,540.9 756.5,538.4 752.5,536.0 748.5,533.5 744.5,531.1 740.5,528.7 736.5,526.3 732.5,523.8 728.5,521.4 724.5,519.0 720.5,516.6 716.5,514.2 712.5,511.8 708.5,509.3 704.5,506.9 700.5,504.5 696.5,502.1 692.5,499.7 688.5,497.3 684.5,494.8 680.5,492.4 676.5,490.0 672.5,487.6 668.5,485.1 664.5,482.7 660.5,480.3 656.5,477.8 652.5,475.4 648.5,472.9 644.5,470.4 640.5,468.0 636.5,465.5 632.5,463.0 628.5,460.5 624.5,458.1 620.5,455.6 616.5,453.1 612.5,450.6 608.5,448.0 604.5,445.5 600.5,443.0 596.5,440.5 592.5,438.0 588.5,435.4 584.5,432.9 580.5,430.3 576.5,427.8 572.5,425.3 568.5,422.7 564.5,420.1 560.5,417.6 556.5,415.0 552.5,412.5 548.5,409.9 544.5,407.3 540.5,404.7 536.5,402.2 532.5,399.6 528.5,397.0 524.5,394.4 520.5,391.8 516.5,389.2 512.5,386.7 508.5,384.1 504.5,381.5 500.5,378.9 496.5,376.3 492.5,373.7 488.5,371.1 484.5,368.5 480.5,365.8 476.5,363.2 472.5,360.6 468.5,358.0 464.5,355.4 460.5,352.8 456.5,350.2 452.5,347.6 448.5,345.0 444.5,342.3 440.5,339.7 436.5,337.1 432.5,334.5 428.5,331.9 424.5,329.2 420.5,326.6 416.5,324.0 412.5,321.4 408.5,318.7 404.5,316.1 400.5,313.4 396.5,310.8 392.5,308.1 388.5,305.4 384.5,302.7 380.5,300.0 376.5,297.3 372.5,294.5 368.5,291.7 364.5,288.9 360.5,286.1 356.5,283.3 352.5,280.4 348.5,277.5 344.5,274.6 340.5,271.6 336.5,268.6 332.5,265.6 328.5,262.5 324.5,259.5 320.5,256.3 316.5,253.2 312.5,249.9 308.5,246.7 304.5,243.4 300.5,240.0 296.5,236.6 292.5,233.2 288.5,229.7 284.5,226.2 280.5,222.6 276.5,218.9 272.5,215.2 268.5,211.4 264.5,207.6 260.5,203.7 256.5,199.8 252.5,195.8 248.5,191.7 244.5,187.5 240.5,183.3 236.5,179.0 232.5,174.7 228.5,170.2 226.0,163.5 223.5,160.0 221.0,155.5 218.5,150.0 216.0,144.0 213.5,138.0 211.0,129.0 208.5,116.0 206.0,96.0 206.0,70.0 206.0,47.5" fill="#009E73" stroke="#009E73" stroke-width="2.6" stroke-linejoin="round"/>
<use href="#xa3" x="977.0" y="669.4"/><use href="#xa2" x="977.0" y="671.8"/><use href="#xa3" x="979.4" y="671.8"/><use href="#xa3" x="981.9" y="671.8"/><use href="#xa2" x="981.9" y="674.3"/><use href="#xa3" x="984.4" y="674.3"/><use href="#xa2" x="986.8" y="674.3"/><use href="#xa3" x="986.8" y="676.7"/><use href="#xa3" x="989.3" y="676.7"/><use href="#xa2" x="991.7" y="676.7"/><use href="#xa3" x="991.7" y="679.2"/><use href="#xa3" x="994.2" y="679.2"/><use href="#xa3" x="996.7" y="681.7"/><use href="#xa3" x="999.1" y="681.7"/><use href="#xa2" x="999.1" y="684.1"/><use href="#xa3" x="1001.6" y="684.1"/><use href="#xa1" x="1004.0" y="684.1"/><use href="#xa3" x="1004.0" y="686.6"/><use href="#xa3" x="1006.5" y="686.6"/><use href="#xa1" x="1006.5" y="689.1"/><use href="#xa2" x="1009.0" y="686.6"/><use href="#xa3" x="1009.0" y="689.1"/><use href="#xa3" x="1011.4" y="689.1"/><use href="#xa3" x="1013.9" y="691.5"/><use href="#xa3" x="1016.4" y="691.5"/><use href="#xa2" x="1016.4" y="694.0"/><use href="#xa3" x="1018.8" y="694.0"/><use href="#xa3" x="1021.3" y="694.0"/><use href="#xa1" x="1021.3" y="696.4"/><use href="#xa3" x="1023.7" y="696.4"/><use href="#xa2" x="1026.2" y="696.4"/><use href="#xa3" x="1028.7" y="698.9"/><use href="#xa2" x="1031.1" y="698.9"/><use href="#xa2" x="1031.1" y="701.4"/><use href="#xa3" x="1033.6" y="701.4"/><use href="#xa1" x="1036.0" y="701.4"/><use href="#xa3" x="1036.0" y="703.8"/><use href="#xa3" x="1038.5" y="703.8"/><use href="#xa3" x="1041.0" y="706.3"/><use href="#xa3" x="1043.4" y="706.3"/><use href="#xa1" x="1043.4" y="708.7"/><use href="#xa3" x="1045.9" y="708.7"/><use href="#xa3" x="1048.3" y="708.7"/><use href="#xa3" x="1050.8" y="711.2"/><use href="#xa1" x="1053.3" y="711.2"/><use href="#xa3" x="1053.3" y="713.7"/><use href="#xa3" x="1055.7" y="713.7"/><use href="#xa3" x="1058.2" y="716.1"/><use href="#xa1" x="1060.6" y="716.1"/><use href="#xa1" x="1060.6" y="718.6"/><use href="#xa2" x="1063.1" y="718.6"/><use href="#xa3" x="1065.6" y="718.6"/><use href="#xa1" x="1065.6" y="721.0"/><use href="#xa3" x="1068.0" y="721.0"/><use href="#xa2" x="1070.5" y="723.5"/><use href="#xa3" x="1073.0" y="723.5"/><use href="#xa1" x="1075.4" y="723.5"/><use href="#xa1" x="1075.4" y="726.0"/><use href="#xa3" x="1077.9" y="726.0"/><use href="#xa1" x="1080.3" y="726.0"/><use href="#xa3" x="1080.3" y="728.4"/><use href="#xa2" x="1082.8" y="728.4"/><use href="#xa3" x="1085.3" y="730.9"/><use href="#xa1" x="1087.7" y="730.9"/><use href="#xa1" x="1087.7" y="733.3"/><use href="#xa1" x="1090.2" y="733.3"/><use href="#xa2" x="1092.6" y="733.3"/><use href="#xa1" x="1095.1" y="733.3"/><use href="#xa2" x="1095.1" y="735.8"/><use href="#xa2" x="1097.6" y="735.8"/><use href="#xa1" x="1097.6" y="738.3"/><use href="#xa1" x="1100.0" y="738.3"/><use href="#xa2" x="1102.5" y="738.3"/><use href="#xa3" x="1104.9" y="740.7"/><use href="#xa1" x="1107.4" y="740.7"/><use href="#xa2" x="1107.4" y="743.2"/><use href="#xa1" x="1109.9" y="743.2"/><use href="#xa3" x="1112.3" y="745.7"/><use href="#xa1" x="1114.8" y="745.7"/><use href="#xa1" x="1114.8" y="748.1"/><use href="#xa2" x="1119.7" y="748.1"/><use href="#xa1" x="1119.7" y="750.6"/><use href="#xa2" x="1122.2" y="750.6"/><use href="#xa1" x="1124.6" y="753.0"/><use href="#xa2" x="1127.1" y="753.0"/><use href="#xa1" x="1129.6" y="753.0"/><use href="#xa1" x="1129.6" y="755.5"/><use href="#xa2" x="1132.0" y="755.5"/><use href="#xa1" x="1134.5" y="758.0"/><use href="#xa1" x="1136.9" y="758.0"/><use href="#xa1" x="1136.9" y="760.4"/><use href="#xa2" x="1139.4" y="760.4"/><use href="#xa1" x="1141.9" y="762.9"/><use href="#xa2" x="1144.3" y="762.9"/><use href="#xa1" x="1146.8" y="765.3"/><use href="#xa1" x="1149.2" y="765.3"/><use href="#xa2" x="1151.7" y="767.8"/><use href="#xa1" x="1154.2" y="767.8"/><use href="#xa1" x="1156.6" y="770.3"/><use href="#xa1" x="1159.1" y="770.3"/><use href="#xa1" x="1159.1" y="772.7"/><use href="#xa1" x="1161.5" y="772.7"/><use href="#xa1" x="1164.0" y="775.2"/><use href="#xa1" x="1166.5" y="775.2"/><use href="#xa1" x="1168.9" y="777.6"/><use href="#xa1" x="1171.4" y="777.6"/><use href="#xa1" x="1171.4" y="780.1"/><use href="#xa1" x="1173.8" y="780.1"/><use href="#xa1" x="1176.3" y="782.6"/><use href="#xa1" x="1178.8" y="782.6"/><use href="#xa1" x="1181.2" y="785.0"/><use href="#xa1" x="1183.7" y="785.0"/><use href="#xa1" x="1183.7" y="787.5"/><use href="#xa1" x="1188.6" y="789.9"/><use href="#xa1" x="1191.1" y="789.9"/><use href="#xa1" x="1193.5" y="792.4"/><use href="#xa1" x="1196.0" y="792.4"/><use href="#xa1" x="1196.0" y="794.9"/><use href="#xa1" x="1198.5" y="797.3"/><use href="#xa1" x="1203.4" y="797.3"/><use href="#xa1" x="1205.8" y="799.8"/><use href="#xa1" x="1208.3" y="802.3"/><use href="#xa1" x="1210.8" y="804.7"/><use href="#xa1" x="1210.8" y="807.2"/><use href="#xa1" x="1213.2" y="807.2"/><use href="#xa1" x="1215.7" y="809.6"/><use href="#xa1" x="1218.1" y="812.1"/><use href="#xa1" x="1220.6" y="814.6"/><use href="#xa1" x="1223.1" y="817.0"/><use href="#xa1" x="1225.5" y="819.5"/><use href="#xa1" x="1228.0" y="821.9"/><use href="#xa1" x="1232.9" y="824.4"/><use href="#xa1" x="1235.4" y="826.9"/><use href="#xa1" x="1242.8" y="831.8"/><use href="#xa1" x="1250.1" y="834.2"/><use href="#xa1" x="1252.6" y="836.7"/><use href="#xa1" x="1257.5" y="841.6"/><use href="#xa1" x="1260.0" y="846.5"/><use href="#xa1" x="1264.0" y="849.5"/><use href="#xa1" x="1295.0" y="854.0"/><use href="#xa1" x="1299.0" y="859.0"/><use href="#xa1" x="1334.0" y="864.4"/><use href="#xa1" x="1339.0" y="870.3"/><use href="#xa1" x="1345.0" y="877.0"/><use href="#xa1" x="1346.0" y="884.6"/><use href="#xa1" x="1368.0" y="894.0"/><use href="#xa1" x="1383.6" y="905.0"/><use href="#xa1" x="1408.5" y="917.6"/><use href="#xa1" x="1438.5" y="932.6"/><use href="#xa1" x="1463.6" y="955.0"/></g>
<polyline points="197.3,135.9 202.9,141.7 208.5,147.5 214.1,153.3 219.7,158.9 225.3,164.5 230.8,170.1 236.4,175.6 242.0,181.0 247.6,186.4 253.2,191.8 258.8,197.0 264.4,202.3 270.0,207.4 275.6,212.6 281.2,217.6 286.8,222.7 292.4,227.6 297.9,232.6 303.5,237.5 309.1,242.3 314.7,247.1 320.3,251.9 325.9,256.6 331.5,261.2 337.1,265.9 342.7,270.5 348.3,275.0 353.9,279.5 359.4,284.0 365.0,288.4 370.6,292.8 376.2,297.2 381.8,301.5 387.4,305.8 393.0,310.1 398.6,314.3 404.2,318.5 409.8,322.6 415.4,326.7 420.9,330.8 426.5,334.9 432.1,338.9 437.7,342.9 443.3,346.9 448.9,350.8 454.5,354.7 460.1,358.6 465.7,362.5 471.3,366.3 476.9,370.1 482.5,373.9 488.0,377.6 493.6,381.3 499.2,385.0 504.8,388.7 510.4,392.3 516.0,395.9 521.6,399.5 527.2,403.1 532.8,406.6 538.4,410.1 544.0,413.6 549.5,417.1 555.1,420.6 560.7,424.0 566.3,427.4 571.9,430.8 577.5,434.1 583.1,437.5 588.7,440.8 594.3,444.1 599.9,447.4 605.5,450.6 611.1,453.9 616.6,457.1 622.2,460.3 627.8,463.5 633.4,466.6 639.0,469.8 644.6,472.9 650.2,476.0 655.8,479.1 661.4,482.2 667.0,485.2 672.6,488.2 678.1,491.3 683.7,494.3 689.3,497.2 694.9,500.2 700.5,503.1 706.1,506.1 711.7,509.0 717.3,511.9 722.9,514.8 728.5,517.6 734.1,520.5 739.7,523.3 745.2,526.2 750.8,529.0 756.4,531.8 762.0,534.5 767.6,537.3 773.2,540.0 778.8,542.8 784.4,545.5 790.0,548.2 795.6,550.9 801.2,553.6 806.7,556.2 812.3,558.9 817.9,561.5 823.5,564.2 829.1,566.8 834.7,569.4 840.3,572.0 845.9,574.5 851.5,577.1 857.1,579.6 862.7,582.2 868.2,584.7 873.8,587.2 879.4,589.7 885.0,592.2 890.6,594.7 896.2,597.2 901.8,599.6 907.4,602.1 913.0,604.5 918.6,606.9 924.2,609.3 929.8,611.7 935.3,614.1 940.9,616.5 946.5,618.8 952.1,621.2 957.7,623.5 963.3,625.9 968.9,628.2 974.5,630.5 980.1,632.8 985.7,635.1 991.3,637.4 996.8,639.7 1002.4,641.9 1008.0,644.2 1013.6,646.4 1019.2,648.7 1024.8,650.9 1030.4,653.1 1036.0,655.3 1041.6,657.5 1047.2,659.7 1052.8,661.9 1058.4,664.1 1063.9,666.2 1069.5,668.4 1075.1,670.5 1080.7,672.7 1086.3,674.8 1091.9,676.9 1097.5,679.0 1103.1,681.1 1108.7,683.2 1114.3,685.3 1119.9,687.4 1125.4,689.5 1131.0,691.5 1136.6,693.6 1142.2,695.6 1147.8,697.7 1153.4,699.7 1159.0,701.7 1164.6,703.7 1170.2,705.7 1175.8,707.7 1181.4,709.7 1187.0,711.7 1192.5,713.7 1198.1,715.7 1203.7,717.6 1209.3,719.6 1214.9,721.5 1220.5,723.5 1226.1,725.4 1231.7,727.3 1237.3,729.2 1242.9,731.2 1248.5,733.1 1254.0,735.0 1259.6,736.8 1265.2,738.7 1270.8,740.6 1276.4,742.5 1282.0,744.3 1287.6,746.2 1293.2,748.1 1298.8,749.9 1304.4,751.7 1310.0,753.6 1315.5,755.4 1321.1,757.2 1326.7,759.0 1332.3,760.8 1337.9,762.6 1343.5,764.4 1349.1,766.2 1354.7,768.0 1360.3,769.8 1365.9,771.6 1371.5,773.3 1377.1,775.1 1382.6,776.8 1388.2,778.6 1393.8,780.3 1399.4,782.1 1405.0,783.8 1410.6,785.5 1416.2,787.2 1421.8,788.9 1427.4,790.7 1433.0,792.4 1438.6,794.1 1444.1,795.7 1449.7,797.4 1455.3,799.1 1460.9,800.8 1466.5,802.5 1472.1,804.1 1477.7,805.8 1483.3,807.4 1488.9,809.1 1494.5,810.7 1500.1,812.4 1505.7,814.0 1511.2,815.6 1516.8,817.3 1522.4,818.9 1528.0,820.5 1533.6,822.1 1539.2,823.7" fill="none" stroke="#ff0000" stroke-width="5"/>
<path d="M196 35V134M198.5 37.5H207" stroke="#000" stroke-opacity="0.5" stroke-width="5" fill="none"/>
<use href="#pa1" x="1461.5" y="70.3"/><use href="#xa1" x="1461.5" y="108"/>
<path d="M1417 145.6H1506.5" stroke="#ff0000" stroke-width="5" fill="none"/>
</g>
<g id="plot2">
<g font-size="30" fill="#000">
<text x="178.2" y="1254.9" text-anchor="end">1</text>
<text x="178.2" y="1385.2" text-anchor="end">0.1</text>
<text x="178.2" y="1515.4" text-anchor="end">0.01</text>
<text x="178.2" y="1645.7" text-anchor="end">0.001</text>
<text x="178.2" y="1775.9" text-anchor="end">0.0001</text>
<text x="180.2" y="1904.9" text-anchor="end">1×10<tspan font-size="21.9" dy="-13.5">-5</tspan></text>
<text x="180.2" y="2035.1" text-anchor="end">1×10<tspan font-size="21.9" dy="-13.5">-6</tspan></text>
<text x="180.2" y="2165.3" text-anchor="end">1×10<tspan font-size="21.9" dy="-13.5">-7</tspan></text>
<text x="180.2" y="2295.6" text-anchor="end">1×10<tspan font-size="21.9" dy="-13.5">-8</tspan></text>
<text x="196.8" y="2333.6" text-anchor="middle">0</text>
<text x="418.6" y="2333.6" text-anchor="middle">10</text>
<text x="642.3" y="2333.6" text-anchor="middle">20</text>
<text x="866.1" y="2333.6" text-anchor="middle">30</text>
<text x="1089.8" y="2333.6" text-anchor="middle">40</text>
<text x="1313.5" y="2333.6" text-anchor="middle">50</text>
<text x="1537.3" y="2333.6" text-anchor="middle">60</text>
<text x="866" y="2392" text-anchor="middle">E</text>
<text transform="translate(46.7,1769) rotate(-90)" text-anchor="middle">Probability density function f(E)</text>
<text x="1398.7" y="1289.1" text-anchor="end">C3 f=0.95</text>
<text x="1397.8" y="1325.8" text-anchor="end">C6-t3 f=0.95</text>
<text x="1388" y="1364.8" text-anchor="end">exp(-2.642)/(1+0.0447*x)**10.17</text>
</g>
<rect x="194.4" y="1244.8" width="1342.6" height="1042.0" fill="none" stroke="#000" stroke-width="3.30"/>
<path d="M418.4 2286.8v-15.5M418.4 1244.8v15.5M642.1 2286.8v-15.5M642.1 1244.8v15.5M865.9 2286.8v-15.5M865.9 1244.8v15.5M1089.6 2286.8v-15.5M1089.6 1244.8v15.5M1313.3 2286.8v-15.5M1313.3 1244.8v15.5M194.4 1334.0h9.0M1537.0 1334.0h-9.0M194.4 1311.1h9.0M1537.0 1311.1h-9.0M194.4 1294.8h9.0M1537.0 1294.8h-9.0M194.4 1282.2h9.0M1537.0 1282.2h-9.0M194.4 1271.9h9.0M1537.0 1271.9h-9.0M194.4 1263.2h9.0M1537.0 1263.2h-9.0M194.4 1255.6h9.0M1537.0 1255.6h-9.0M194.4 1249.0h9.0M1537.0 1249.0h-9.0M194.4 1373.2h15.5M1537.0 1373.2h-15.5M194.4 1464.3h9.0M1537.0 1464.3h-9.0M194.4 1441.4h9.0M1537.0 1441.4h-9.0M194.4 1425.1h9.0M1537.0 1425.1h-9.0M194.4 1412.5h9.0M1537.0 1412.5h-9.0M194.4 1402.1h9.0M1537.0 1402.1h-9.0M194.4 1393.4h9.0M1537.0 1393.4h-9.0M194.4 1385.9h9.0M1537.0 1385.9h-9.0M194.4 1379.2h9.0M1537.0 1379.2h-9.0M194.4 1503.5h15.5M1537.0 1503.5h-15.5M194.4 1594.5h9.0M1537.0 1594.5h-9.0M194.4 1571.6h9.0M1537.0 1571.6h-9.0M194.4 1555.3h9.0M1537.0 1555.3h-9.0M194.4 1542.7h9.0M1537.0 1542.7h-9.0M194.4 1532.4h9.0M1537.0 1532.4h-9.0M194.4 1523.7h9.0M1537.0 1523.7h-9.0M194.4 1516.1h9.0M1537.0 1516.1h-9.0M194.4 1509.5h9.0M1537.0 1509.5h-9.0M194.4 1633.8h15.5M1537.0 1633.8h-15.5M194.4 1724.8h9.0M1537.0 1724.8h-9.0M194.4 1701.9h9.0M1537.0 1701.9h-9.0M194.4 1685.6h9.0M1537.0 1685.6h-9.0M194.4 1673.0h9.0M1537.0 1673.0h-9.0M194.4 1662.6h9.0M1537.0 1662.6h-9.0M194.4 1653.9h9.0M1537.0 1653.9h-9.0M194.4 1646.4h9.0M1537.0 1646.4h-9.0M194.4 1639.7h9.0M1537.0 1639.7h-9.0M194.4 1764.0h15.5M1537.0 1764.0h-15.5M194.4 1855.0h9.0M1537.0 1855.0h-9.0M194.4 1832.1h9.0M1537.0 1832.1h-9.0M194.4 1815.8h9.0M1537.0 1815.8h-9.0M194.4 1803.2h9.0M1537.0 1803.2h-9.0M194.4 1792.9h9.0M1537.0 1792.9h-9.0M194.4 1784.2h9.0M1537.0 1784.2h-9.0M194.4 1776.6h9.0M1537.0 1776.6h-9.0M194.4 1770.0h9.0M1537.0 1770.0h-9.0M194.4 1894.2h15.5M1537.0 1894.2h-15.5M194.4 1985.3h9.0M1537.0 1985.3h-9.0M194.4 1962.4h9.0M1537.0 1962.4h-9.0M194.4 1946.1h9.0M1537.0 1946.1h-9.0M194.4 1933.5h9.0M1537.0 1933.5h-9.0M194.4 1923.1h9.0M1537.0 1923.1h-9.0M194.4 1914.4h9.0M1537.0 1914.4h-9.0M194.4 1906.9h9.0M1537.0 1906.9h-9.0M194.4 1900.2h9.0M1537.0 1900.2h-9.0M194.4 2024.5h15.5M1537.0 2024.5h-15.5M194.4 2115.5h9.0M1537.0 2115.5h-9.0M194.4 2092.6h9.0M1537.0 2092.6h-9.0M194.4 2076.3h9.0M1537.0 2076.3h-9.0M194.4 2063.7h9.0M1537.0 2063.7h-9.0M194.4 2053.4h9.0M1537.0 2053.4h-9.0M194.4 2044.7h9.0M1537.0 2044.7h-9.0M194.4 2037.1h9.0M1537.0 2037.1h-9.0M194.4 2030.5h9.0M1537.0 2030.5h-9.0M194.4 2154.8h15.5M1537.0 2154.8h-15.5M194.4 2245.8h9.0M1537.0 2245.8h-9.0M194.4 2222.9h9.0M1537.0 2222.9h-9.0M194.4 2206.6h9.0M1537.0 2206.6h-9.0M194.4 2194.0h9.0M1537.0 2194.0h-9.0M194.4 2183.6h9.0M1537.0 2183.6h-9.0M194.4 2174.9h9.0M1537.0 2174.9h-9.0M194.4 2167.4h9.0M1537.0 2167.4h-9.0M194.4 2160.7h9.0M1537.0 2160.7h-9.0" fill="none" stroke="#000" stroke-width="3.30" stroke-linecap="round"/>
<g id="c3b"><use href="#pb" x="199.1" y="1282.0"/><use href="#pb" x="201.3" y="1308.0"/><use href="#pb" x="203.5" y="1327.0"/><use href="#pb" x="205.8" y="1345.0"/><use href="#pb" x="208.0" y="1356.0"/><use href="#pb" x="210.3" y="1367.0"/><use href="#pb" x="212.5" y="1378.0"/><use href="#pb" x="214.7" y="1388.0"/><use href="#pb" x="217.0" y="1397.0"/><use href="#pb" x="219.2" y="1405.0"/><use href="#pb" x="221.4" y="1412.0"/><use href="#pb" x="223.7" y="1419.0"/><use href="#pb" x="225.9" y="1425.0"/><use href="#pb" x="228.2" y="1431.0"/><use href="#pb" x="230.4" y="1437.0"/><use href="#pb" x="232.6" y="1435.5"/><use href="#pb" x="235.2" y="1438.0"/><use href="#pb" x="236.6" y="1441.3"/><use href="#pb" x="239.1" y="1444.6"/><use href="#pb" x="241.9" y="1448.3"/><use href="#pb" x="244.2" y="1451.2"/><use href="#pb" x="246.8" y="1454.2"/><use href="#pb" x="247.7" y="1457.8"/><use href="#pb" x="251.0" y="1460.8"/><use href="#pb" x="252.3" y="1463.0"/><use href="#pb" x="254.3" y="1465.7"/><use href="#pb" x="257.1" y="1468.5"/><use href="#pb" x="259.7" y="1471.2"/><use href="#pb" x="262.4" y="1474.5"/><use href="#pb" x="263.9" y="1476.9"/><use href="#pb" x="266.0" y="1479.5"/><use href="#pb" x="268.8" y="1482.1"/><use href="#pb" x="270.4" y="1485.5"/><use href="#pb" x="273.2" y="1488.0"/><use href="#pb" x="275.1" y="1490.0"/><use href="#pb" x="277.2" y="1493.2"/><use href="#pb" x="279.8" y="1495.9"/><use href="#pb" x="281.7" y="1498.0"/><use href="#pb" x="284.1" y="1500.2"/><use href="#pb" x="287.0" y="1502.9"/><use href="#pb" x="289.2" y="1504.5"/><use href="#pb" x="291.0" y="1507.6"/><use href="#pb" x="293.1" y="1509.6"/><use href="#pb" x="296.0" y="1512.7"/><use href="#pb" x="297.7" y="1514.3"/><use href="#pb" x="299.1" y="1517.1"/><use href="#pb" x="301.8" y="1518.9"/><use href="#pb" x="304.5" y="1521.0"/><use href="#pb" x="306.8" y="1524.2"/><use href="#pb" x="308.2" y="1525.0"/><use href="#pb" x="311.2" y="1528.3"/><use href="#pb" x="312.9" y="1529.4"/><use href="#pb" x="315.7" y="1533.1"/><use href="#pb" x="318.3" y="1533.9"/><use href="#pb" x="320.3" y="1536.9"/><use href="#pb" x="322.2" y="1537.7"/><use href="#pb" x="324.0" y="1539.3"/><use href="#pb" x="326.4" y="1542.2"/><use href="#pb" x="328.8" y="1544.2"/><use href="#pb" x="331.7" y="1546.4"/><use href="#pb" x="333.5" y="1546.7"/><use href="#pb" x="335.3" y="1549.9"/><use href="#pb" x="338.3" y="1552.0"/><use href="#pb" x="340.0" y="1553.6"/><use href="#pb" x="342.8" y="1555.9"/><use href="#pb" x="344.8" y="1557.6"/><use href="#pb" x="346.5" y="1559.0"/><use href="#pb" x="349.4" y="1561.5"/><use href="#pb" x="351.3" y="1564.0"/><use href="#pb" x="353.7" y="1566.6"/><use href="#pb" x="355.9" y="1566.7"/><use href="#pb" x="357.3" y="1567.8"/><use href="#pb" x="359.5" y="1569.9"/><use href="#pb" x="361.7" y="1570.1"/><use href="#pb" x="364.6" y="1572.4"/><use href="#pb" x="366.8" y="1574.5"/><use href="#pb" x="368.8" y="1576.1"/><use href="#pb" x="371.1" y="1577.7"/><use href="#pb" x="374.2" y="1581.0"/><use href="#pb" x="375.9" y="1579.3"/><use href="#pb" x="378.4" y="1582.3"/><use href="#pb" x="380.3" y="1586.1"/><use href="#pb" x="382.1" y="1585.6"/><use href="#pb" x="384.9" y="1587.4"/><use href="#pb" x="386.7" y="1590.6"/><use href="#pb" x="389.3" y="1591.6"/><use href="#pb" x="391.0" y="1592.6"/><use href="#pb" x="394.4" y="1595.2"/><use href="#pb" x="396.3" y="1595.0"/><use href="#pb" x="398.2" y="1597.3"/><use href="#pb" x="401.0" y="1597.9"/><use href="#pb" x="403.2" y="1598.6"/><use href="#pb" x="405.1" y="1601.0"/><use href="#pb" x="407.3" y="1603.2"/><use href="#pb" x="409.5" y="1604.4"/><use href="#pb" x="411.3" y="1606.3"/><use href="#pb" x="414.2" y="1606.2"/><use href="#pb" x="416.2" y="1608.6"/><use href="#pb" x="418.1" y="1610.8"/><use href="#pb" x="421.0" y="1611.8"/><use href="#pb" x="423.5" y="1613.6"/><use href="#pb" x="425.7" y="1614.2"/><use href="#pb" x="428.0" y="1617.2"/><use href="#pb" x="429.0" y="1618.1"/><use href="#pb" x="432.5" y="1617.7"/><use href="#pb" x="433.9" y="1622.3"/><use href="#pb" x="436.5" y="1623.3"/><use href="#pb" x="438.0" y="1626.5"/><use href="#pb" x="440.3" y="1629.3"/><use href="#pb" x="442.9" y="1627.6"/><use href="#pb" x="445.1" y="1628.1"/><use href="#pb" x="446.9" y="1630.8"/><use href="#pb" x="449.9" y="1628.7"/><use href="#pb" x="451.8" y="1634.5"/><use href="#pb" x="454.1" y="1634.5"/><use href="#pb" x="456.0" y="1636.5"/><use href="#pb" x="458.0" y="1636.7"/><use href="#pb" x="461.3" y="1640.2"/><use href="#pb" x="462.9" y="1637.9"/><use href="#pb" x="465.4" y="1640.1"/><use href="#pb" x="467.2" y="1643.5"/><use href="#pb" x="469.6" y="1642.2"/><use href="#pb" x="472.5" y="1643.2"/><use href="#pb" x="474.6" y="1648.7"/><use href="#pb" x="475.9" y="1648.7"/><use href="#pb" x="478.2" y="1651.1"/><use href="#pb" x="481.6" y="1649.7"/><use href="#pb" x="482.8" y="1655.8"/><use href="#pb" x="486.2" y="1654.0"/><use href="#pb" x="487.0" y="1657.4"/><use href="#pb" x="490.5" y="1658.3"/><use href="#pb" x="492.2" y="1656.9"/><use href="#pb" x="494.5" y="1659.7"/><use href="#pb" x="496.1" y="1659.5"/><use href="#pb" x="499.4" y="1664.2"/><use href="#pb" x="500.7" y="1661.4"/><use href="#pb" x="503.0" y="1663.7"/><use href="#pb" x="505.2" y="1668.2"/><use href="#pb" x="508.3" y="1670.6"/><use href="#pb" x="509.5" y="1669.0"/><use href="#pb" x="512.3" y="1671.8"/><use href="#pb" x="514.3" y="1672.6"/><use href="#pb" x="517.1" y="1676.8"/><use href="#pb" x="518.8" y="1672.0"/><use href="#pb" x="521.8" y="1677.4"/><use href="#pb" x="523.8" y="1678.9"/><use href="#pb" x="526.4" y="1680.9"/><use href="#pb" x="528.7" y="1681.6"/><use href="#pb" x="530.6" y="1681.6"/><use href="#pb" x="532.8" y="1682.1"/><use href="#pb" x="534.9" y="1688.9"/><use href="#pb" x="537.2" y="1690.8"/><use href="#pb" x="539.8" y="1684.1"/><use href="#pb" x="541.3" y="1688.4"/><use href="#pb" x="543.0" y="1690.6"/><use href="#pb" x="545.9" y="1693.4"/><use href="#pb" x="548.5" y="1691.8"/><use href="#pb" x="550.3" y="1692.5"/><use href="#pb" x="553.1" y="1694.3"/><use href="#pb" x="555.2" y="1701.8"/><use href="#pb" x="557.6" y="1699.3"/><use href="#pb" x="558.6" y="1699.3"/><use href="#pb" x="562.0" y="1700.5"/><use href="#pb" x="564.2" y="1699.9"/><use href="#pb" x="565.7" y="1703.8"/><use href="#pb" x="569.0" y="1707.1"/><use href="#pb" x="570.7" y="1706.5"/><use href="#pb" x="573.1" y="1708.4"/><use href="#pb" x="575.4" y="1708.4"/><use href="#pb" x="576.8" y="1712.6"/><use href="#pb" x="579.4" y="1709.4"/><use href="#pb" x="581.9" y="1712.1"/><use href="#pb" x="584.0" y="1708.6"/><use href="#pb" x="586.7" y="1713.8"/><use href="#pb" x="588.4" y="1710.8"/><use href="#pb" x="591.3" y="1713.9"/><use href="#pb" x="592.6" y="1716.8"/><use href="#pb" x="595.3" y="1716.2"/><use href="#pb" x="597.1" y="1713.9"/><use href="#pb" x="599.0" y="1718.5"/><use href="#pb" x="601.6" y="1722.6"/><use href="#pb" x="604.5" y="1723.2"/><use href="#pb" x="606.7" y="1722.7"/><use href="#pb" x="608.1" y="1724.8"/><use href="#pb" x="610.6" y="1727.5"/><use href="#pb" x="613.5" y="1730.1"/><use href="#pb" x="614.7" y="1728.5"/><use href="#pb" x="617.3" y="1728.0"/><use href="#pb" x="620.0" y="1736.3"/><use href="#pb" x="621.4" y="1731.3"/><use href="#pb" x="623.8" y="1734.7"/><use href="#pb" x="627.2" y="1741.4"/><use href="#pb" x="629.4" y="1738.7"/><use href="#pb" x="631.6" y="1737.5"/><use href="#pb" x="632.7" y="1744.4"/><use href="#pb" x="635.2" y="1745.5"/><use href="#pb" x="637.9" y="1739.9"/><use href="#pb" x="640.3" y="1741.0"/><use href="#pb" x="642.3" y="1750.4"/><use href="#pb" x="643.9" y="1745.0"/><use href="#pb" x="646.8" y="1747.7"/><use href="#pb" x="648.6" y="1753.8"/><use href="#pb" x="651.6" y="1746.7"/><use href="#pb" x="652.8" y="1750.6"/><use href="#pb" x="655.9" y="1748.6"/><use href="#pb" x="658.2" y="1756.6"/><use href="#pb" x="660.0" y="1751.9"/><use href="#pb" x="661.6" y="1757.1"/><use href="#pb" x="663.8" y="1759.8"/><use href="#pb" x="666.9" y="1749.4"/><use href="#pb" x="669.3" y="1757.1"/><use href="#pb" x="670.8" y="1754.3"/><use href="#pb" x="673.1" y="1761.3"/><use href="#pb" x="675.7" y="1763.2"/><use href="#pb" x="677.9" y="1765.5"/><use href="#pb" x="680.2" y="1767.2"/><use href="#pb" x="682.0" y="1776.1"/><use href="#pb" x="684.6" y="1774.5"/><use href="#pb" x="686.6" y="1770.3"/><use href="#pb" x="688.9" y="1771.1"/><use href="#pb" x="690.7" y="1782.0"/><use href="#pb" x="693.0" y="1776.1"/><use href="#pb" x="695.8" y="1776.1"/><use href="#pb" x="698.1" y="1775.7"/><use href="#pb" x="700.0" y="1800.2"/><use href="#pb" x="703.1" y="1780.7"/><use href="#pb" x="705.0" y="1773.7"/><use href="#pb" x="707.5" y="1778.9"/><use href="#pb" x="709.7" y="1783.3"/><use href="#pb" x="711.7" y="1779.4"/><use href="#pb" x="714.3" y="1785.2"/><use href="#pb" x="715.4" y="1784.3"/><use href="#pb" x="718.8" y="1776.5"/><use href="#pb" x="721.0" y="1784.7"/><use href="#pb" x="722.9" y="1786.1"/><use href="#pb" x="725.1" y="1793.8"/><use href="#pb" x="727.1" y="1780.7"/><use href="#pb" x="728.9" y="1794.4"/><use href="#pb" x="730.9" y="1799.0"/><use href="#pb" x="733.2" y="1796.6"/><use href="#pb" x="735.7" y="1798.4"/><use href="#pb" x="738.1" y="1799.6"/><use href="#pb" x="740.9" y="1810.3"/><use href="#pb" x="742.6" y="1797.8"/><use href="#pb" x="745.0" y="1800.8"/><use href="#pb" x="747.3" y="1792.2"/><use href="#pb" x="749.4" y="1802.7"/><use href="#pb" x="751.2" y="1800.2"/><use href="#pb" x="753.8" y="1813.3"/><use href="#pb" x="755.5" y="1802.1"/><use href="#pb" x="759.1" y="1808.1"/><use href="#pb" x="760.5" y="1814.9"/><use href="#pb" x="762.5" y="1814.9"/><use href="#pb" x="765.0" y="1802.7"/><use href="#pb" x="767.6" y="1810.3"/><use href="#pb" x="769.4" y="1822.5"/><use href="#pb" x="772.2" y="1811.8"/><use href="#pb" x="774.6" y="1805.4"/><use href="#pb" x="776.2" y="1809.6"/><use href="#pb" x="778.8" y="1825.3"/><use href="#pb" x="781.1" y="1828.3"/><use href="#pb" x="782.6" y="1829.3"/><use href="#pb" x="785.5" y="1830.4"/><use href="#pb" x="787.1" y="1824.4"/><use href="#pb" x="789.3" y="1815.7"/><use href="#pb" x="791.8" y="1841.9"/><use href="#pb" x="794.7" y="1831.4"/><use href="#pb" x="796.3" y="1826.3"/><use href="#pb" x="799.2" y="1837.0"/><use href="#pb" x="801.4" y="1829.3"/><use href="#pb" x="803.3" y="1815.7"/><use href="#pb" x="804.9" y="1835.9"/><use href="#pb" x="807.5" y="1845.9"/><use href="#pb" x="809.2" y="1824.4"/><use href="#pb" x="812.1" y="1826.3"/><use href="#pb" x="814.2" y="1831.4"/><use href="#pb" x="816.5" y="1833.6"/><use href="#pb" x="818.2" y="1838.2"/><use href="#pb" x="820.4" y="1832.5"/><use href="#pb" x="823.4" y="1845.9"/><use href="#pb" x="825.2" y="1837.0"/><use href="#pb" x="827.9" y="1834.7"/><use href="#pb" x="829.7" y="1835.9"/><use href="#pb" x="831.7" y="1847.3"/><use href="#pb" x="833.8" y="1839.4"/><use href="#pb" x="836.3" y="1840.7"/><use href="#pb" x="839.0" y="1844.6"/><use href="#pb" x="841.2" y="1847.3"/><use href="#pb" x="843.9" y="1867.5"/><use href="#pb" x="846.1" y="1863.6"/><use href="#pb" x="847.9" y="1853.3"/><use href="#pb" x="850.9" y="1848.8"/><use href="#pb" x="852.6" y="1854.9"/><use href="#pb" x="854.7" y="1883.8"/><use href="#pb" x="857.4" y="1850.2"/><use href="#pb" x="859.6" y="1871.7"/><use href="#pb" x="860.9" y="1854.9"/><use href="#pb" x="864.0" y="1865.5"/><use href="#pb" x="865.2" y="1867.5"/><use href="#pb" x="867.9" y="1867.5"/><use href="#pb" x="869.7" y="1863.6"/><use href="#pb" x="873.1" y="1863.6"/><use href="#pb" x="874.9" y="1873.9"/><use href="#pb" x="876.9" y="1878.6"/><use href="#pb" x="878.8" y="1873.9"/><use href="#pb" x="881.4" y="1867.5"/><use href="#pb" x="883.3" y="1889.4"/><use href="#pb" x="886.0" y="1876.2"/><use href="#pb" x="888.9" y="1892.5"/><use href="#pb" x="890.2" y="1867.5"/><use href="#pb" x="893.1" y="1869.6"/><use href="#pb" x="895.1" y="1945.9"/><use href="#pb" x="897.3" y="1895.7"/><use href="#pb" x="899.2" y="1895.7"/><use href="#pb" x="901.7" y="1902.8"/><use href="#pb" x="903.8" y="1892.5"/><use href="#pb" x="905.9" y="1899.2"/><use href="#pb" x="908.6" y="1867.5"/><use href="#pb" x="911.0" y="1886.5"/><use href="#pb" x="913.3" y="1892.5"/><use href="#pb" x="915.7" y="1906.7"/><use href="#pb" x="916.9" y="1881.1"/><use href="#pb" x="919.9" y="1899.2"/><use href="#pb" x="921.4" y="1902.8"/><use href="#pb" x="923.4" y="1876.2"/><use href="#pb" x="926.1" y="1883.8"/><use href="#pb" x="928.6" y="1910.9"/><use href="#pb" x="930.1" y="1895.7"/><use href="#pb" x="933.3" y="1910.9"/><use href="#pb" x="934.7" y="1915.4"/><use href="#pb" x="936.9" y="1906.7"/><use href="#pb" x="940.1" y="1886.5"/><use href="#pb" x="942.3" y="1906.7"/><use href="#pb" x="943.6" y="1931.7"/><use href="#pb" x="947.0" y="1895.7"/><use href="#pb" x="948.5" y="1925.8"/><use href="#pb" x="951.1" y="1910.9"/><use href="#pb" x="953.7" y="1906.7"/><use href="#pb" x="954.8" y="1925.8"/><use href="#pb" x="957.6" y="1910.9"/><use href="#pb" x="959.9" y="1915.4"/><use href="#pb" x="962.0" y="1915.4"/><use href="#pb" x="964.6" y="1931.7"/><use href="#pb" x="966.0" y="1920.4"/><use href="#pb" x="968.6" y="1947.0"/><use href="#pb" x="970.3" y="1906.7"/><use href="#pb" x="973.2" y="1938.4"/><use href="#pb" x="975.8" y="1925.8"/><use href="#pb" x="977.0" y="1915.4"/><use href="#pb" x="980.6" y="1915.4"/><use href="#pb" x="981.8" y="1954.6"/><use href="#pb" x="984.6" y="1920.4"/><use href="#pb" x="987.2" y="1938.4"/><use href="#pb" x="988.4" y="1910.9"/><use href="#pb" x="991.4" y="1938.4"/><use href="#pb" x="994.1" y="1931.7"/><use href="#pb" x="995.7" y="1966.5"/><use href="#pb" x="998.1" y="1925.8"/><use href="#pb" x="999.5" y="1931.7"/><use href="#pb" x="1002.5" y="1938.4"/><use href="#pb" x="1008.8" y="1967.0"/><use href="#pb" x="1011.7" y="1920.4"/><use href="#pb" x="1013.7" y="1974.7"/><use href="#pb" x="1016.1" y="2006.7"/><use href="#pb" x="1017.4" y="2007.4"/><use href="#pb" x="1022.7" y="1952.1"/><use href="#pb" x="1027.0" y="1935.8"/><use href="#pb" x="1029.2" y="1938.4"/><use href="#pb" x="1031.6" y="1961.0"/><use href="#pb" x="1033.6" y="2007.6"/><use href="#pb" x="1035.7" y="1993.9"/><use href="#pb" x="1037.4" y="1972.4"/><use href="#pb" x="1040.0" y="2051.0"/><use href="#pb" x="1042.2" y="1956.1"/><use href="#pb" x="1045.4" y="1985.4"/><use href="#pb" x="1046.9" y="1977.6"/><use href="#pb" x="1049.6" y="1999.1"/><use href="#pb" x="1051.8" y="1949.0"/><use href="#pb" x="1053.4" y="1963.6"/><use href="#pb" x="1055.6" y="1993.9"/><use href="#pb" x="1058.1" y="1938.4"/><use href="#pb" x="1060.2" y="1965.0"/><use href="#pb" x="1063.1" y="2041.1"/><use href="#pb" x="1065.4" y="1970.3"/><use href="#pb" x="1070.0" y="2008.8"/><use href="#pb" x="1071.4" y="2026.6"/><use href="#pb" x="1073.9" y="1984.6"/><use href="#pb" x="1077.9" y="1994.5"/><use href="#pb" x="1080.6" y="2027.9"/><use href="#pb" x="1083.2" y="1993.9"/><use href="#pb" x="1084.4" y="1993.9"/><use href="#pb" x="1087.6" y="1996.9"/><use href="#pb" x="1089.4" y="2039.9"/><use href="#pb" x="1092.2" y="1952.6"/><use href="#pb" x="1093.8" y="1967.4"/><use href="#pb" x="1096.8" y="2010.8"/><use href="#pb" x="1097.9" y="2016.8"/><use href="#pb" x="1100.9" y="2082.1"/><use href="#pb" x="1103.0" y="2006.1"/><use href="#pb" x="1104.7" y="2003.4"/><use href="#pb" x="1107.8" y="2016.8"/><use href="#pb" x="1109.3" y="2034.5"/><use href="#pb" x="1112.3" y="1965.0"/><use href="#pb" x="1113.9" y="1993.9"/><use href="#pb" x="1118.3" y="2026.4"/><use href="#pb" x="1121.3" y="2029.9"/><use href="#pb" x="1123.7" y="1994.5"/><use href="#pb" x="1124.9" y="2076.5"/><use href="#pb" x="1127.2" y="2016.8"/><use href="#pb" x="1130.1" y="1978.7"/><use href="#pb" x="1136.8" y="2016.8"/><use href="#pb" x="1139.2" y="2016.8"/><use href="#pb" x="1141.3" y="2022.6"/><use href="#pb" x="1143.0" y="2090.7"/><use href="#pb" x="1145.6" y="1977.6"/><use href="#pb" x="1147.5" y="2019.2"/><use href="#pb" x="1149.7" y="2069.7"/><use href="#pb" x="1151.6" y="1993.9"/><use href="#pb" x="1153.9" y="2016.8"/><use href="#pb" x="1156.6" y="2009.2"/><use href="#pb" x="1159.0" y="2038.4"/><use href="#pb" x="1161.7" y="1993.9"/><use href="#pb" x="1163.0" y="2056.0"/><use href="#pb" x="1165.5" y="2056.0"/><use href="#pb" x="1175.1" y="2041.8"/><use href="#pb" x="1177.4" y="2025.9"/><use href="#pb" x="1180.7" y="1997.5"/><use href="#pb" x="1187.5" y="2049.7"/><use href="#pb" x="1189.6" y="2056.0"/><use href="#pb" x="1192.6" y="2045.4"/><use href="#pb" x="1194.0" y="2042.1"/><use href="#pb" x="1200.8" y="2016.2"/><use href="#pb" x="1203.4" y="2016.8"/><use href="#pb" x="1206.0" y="2065.2"/><use href="#pb" x="1218.9" y="1993.9"/><use href="#pb" x="1228.5" y="1982.4"/><use href="#pb" x="1232.6" y="2060.4"/><use href="#pb" x="1243.4" y="2056.0"/><use href="#pb" x="1245.6" y="2016.8"/><use href="#pb" x="1248.0" y="2063.4"/><use href="#pb" x="1252.9" y="2036.0"/><use href="#pb" x="1282.0" y="2032.0"/><use href="#pb" x="1354.0" y="2017.0"/><use href="#pb" x="1476.6" y="2017.0"/><use href="#pb" x="1534.4" y="2024.0"/><use href="#pb" x="1506.6" y="2054.4"/><use href="#pb" x="1489.4" y="2069.2"/><use href="#pb" x="1462.0" y="2092.0"/><use href="#pb" x="1464.0" y="2054.4"/><use href="#pb" x="1392.0" y="2067.0"/><use href="#pb" x="1379.0" y="2079.0"/><use href="#pb" x="1377.0" y="2107.0"/><use href="#pb" x="1374.4" y="2134.4"/><use href="#pb" x="1394.4" y="2172.0"/><use href="#pb" x="1324.4" y="2162.0"/><use href="#pb" x="1312.0" y="2184.4"/><use href="#pb" x="1317.0" y="2084.4"/><use href="#pb" x="1294.4" y="2097.0"/><use href="#pb" x="1266.0" y="2097.0"/><use href="#pb" x="1269.0" y="2057.0"/><use href="#pb" x="1274.0" y="2057.0"/><use href="#pb" x="1279.0" y="2057.0"/><use href="#pb" x="1305.0" y="2054.4"/><use href="#pb" x="1329.0" y="2056.4"/><use href="#pb" x="1347.0" y="2060.0"/><use href="#pb" x="1356.0" y="2055.0"/><use href="#pb" x="1342.0" y="2074.4"/><use href="#pb" x="1334.0" y="2067.0"/><use href="#pb" x="1314.4" y="2229.4"/><use href="#pb" x="1179.4" y="2207.0"/><use href="#pb" x="1115.0" y="2072.0"/><use href="#pb" x="1120.0" y="2097.0"/><use href="#pb" x="1129.0" y="2102.0"/><use href="#pb" x="1147.0" y="2104.4"/><use href="#pb" x="1157.0" y="2084.4"/><use href="#pb" x="1194.4" y="2087.0"/><use href="#pb" x="1240.0" y="2079.4"/><use href="#pb" x="1249.0" y="2087.0"/><use href="#pb" x="1257.0" y="2104.4"/><use href="#pb" x="1265.0" y="2097.0"/><use href="#pb" x="1206.0" y="2067.0"/><use href="#pb" x="1219.0" y="2067.0"/><use href="#pb" x="1024.0" y="1932.0"/><use href="#pb" x="1030.0" y="1934.0"/><use href="#pb" x="1082.0" y="1947.0"/><use href="#pb" x="1089.0" y="1964.0"/><use href="#pb" x="1100.0" y="1979.0"/><use href="#pb" x="1124.0" y="1984.0"/><use href="#pb" x="1137.0" y="1991.0"/><use href="#pb" x="1169.4" y="1987.0"/><use href="#pb" x="1184.4" y="1997.0"/><use href="#pb" x="1229.4" y="1992.0"/><use href="#pb" x="1222.0" y="2004.0"/></g>
<g id="c6b"><use href="#xb" x="199.1" y="1282.0"/><use href="#xb" x="201.3" y="1308.0"/><use href="#xb" x="203.5" y="1327.0"/><use href="#xb" x="205.8" y="1345.0"/><use href="#xb" x="208.0" y="1356.0"/><use href="#xb" x="210.3" y="1367.0"/><use href="#xb" x="212.5" y="1378.0"/><use href="#xb" x="214.7" y="1388.0"/><use href="#xb" x="217.0" y="1397.0"/><use href="#xb" x="219.2" y="1405.0"/><use href="#xb" x="221.4" y="1412.0"/><use href="#xb" x="223.7" y="1419.0"/><use href="#xb" x="225.9" y="1425.0"/><use href="#xb" x="228.2" y="1431.0"/><use href="#xb" x="230.4" y="1437.0"/><use href="#xb" x="232.3" y="1435.5"/><use href="#xb" x="235.3" y="1438.4"/><use href="#xb" x="236.6" y="1441.5"/><use href="#xb" x="239.0" y="1444.8"/><use href="#xb" x="241.3" y="1447.8"/><use href="#xb" x="243.7" y="1450.9"/><use href="#xb" x="245.6" y="1454.3"/><use href="#xb" x="248.2" y="1457.3"/><use href="#xb" x="250.7" y="1460.8"/><use href="#xb" x="252.6" y="1463.8"/><use href="#xb" x="254.4" y="1465.9"/><use href="#xb" x="257.8" y="1468.7"/><use href="#xb" x="259.5" y="1471.4"/><use href="#xb" x="262.4" y="1474.2"/><use href="#xb" x="264.1" y="1476.9"/><use href="#xb" x="266.9" y="1478.9"/><use href="#xb" x="269.0" y="1482.2"/><use href="#xb" x="270.4" y="1485.0"/><use href="#xb" x="272.5" y="1487.4"/><use href="#xb" x="275.0" y="1489.9"/><use href="#xb" x="277.8" y="1493.0"/><use href="#xb" x="279.0" y="1495.3"/><use href="#xb" x="281.5" y="1498.6"/><use href="#xb" x="283.6" y="1500.6"/><use href="#xb" x="287.0" y="1503.5"/><use href="#xb" x="288.4" y="1505.2"/><use href="#xb" x="290.3" y="1507.3"/><use href="#xb" x="292.8" y="1510.0"/><use href="#xb" x="294.6" y="1512.0"/><use href="#xb" x="297.7" y="1514.8"/><use href="#xb" x="300.5" y="1516.8"/><use href="#xb" x="301.3" y="1518.1"/><use href="#xb" x="304.4" y="1521.9"/><use href="#xb" x="306.7" y="1522.9"/><use href="#xb" x="308.8" y="1525.5"/><use href="#xb" x="311.0" y="1528.5"/><use href="#xb" x="313.3" y="1530.3"/><use href="#xb" x="315.3" y="1531.7"/><use href="#xb" x="317.9" y="1534.4"/><use href="#xb" x="320.1" y="1535.7"/><use href="#xb" x="322.6" y="1538.1"/><use href="#xb" x="323.8" y="1540.9"/><use href="#xb" x="326.0" y="1542.4"/><use href="#xb" x="328.7" y="1544.1"/><use href="#xb" x="331.3" y="1545.4"/><use href="#xb" x="332.9" y="1548.2"/><use href="#xb" x="335.3" y="1549.4"/><use href="#xb" x="337.6" y="1552.2"/><use href="#xb" x="339.9" y="1553.3"/><use href="#xb" x="342.1" y="1554.5"/><use href="#xb" x="344.8" y="1557.4"/><use href="#xb" x="346.2" y="1559.6"/><use href="#xb" x="348.6" y="1560.8"/><use href="#xb" x="351.4" y="1562.7"/><use href="#xb" x="353.6" y="1563.2"/><use href="#xb" x="355.2" y="1567.0"/><use href="#xb" x="358.7" y="1567.9"/><use href="#xb" x="360.8" y="1569.7"/><use href="#xb" x="362.2" y="1572.2"/><use href="#xb" x="364.2" y="1573.5"/><use href="#xb" x="366.5" y="1575.9"/><use href="#xb" x="369.8" y="1576.6"/><use href="#xb" x="372.0" y="1577.7"/><use href="#xb" x="373.6" y="1579.7"/><use href="#xb" x="376.6" y="1581.1"/><use href="#xb" x="378.0" y="1582.3"/><use href="#xb" x="380.8" y="1582.2"/><use href="#xb" x="382.1" y="1585.8"/><use href="#xb" x="384.5" y="1587.5"/><use href="#xb" x="386.9" y="1588.7"/><use href="#xb" x="388.6" y="1589.5"/><use href="#xb" x="391.8" y="1590.8"/><use href="#xb" x="393.8" y="1592.9"/><use href="#xb" x="396.5" y="1594.4"/><use href="#xb" x="398.9" y="1599.0"/><use href="#xb" x="399.9" y="1599.1"/><use href="#xb" x="403.1" y="1598.1"/><use href="#xb" x="405.6" y="1602.1"/><use href="#xb" x="406.7" y="1601.9"/><use href="#xb" x="409.7" y="1603.3"/><use href="#xb" x="412.3" y="1606.0"/><use href="#xb" x="414.5" y="1607.0"/><use href="#xb" x="416.6" y="1610.3"/><use href="#xb" x="417.7" y="1609.9"/><use href="#xb" x="420.2" y="1611.5"/><use href="#xb" x="423.3" y="1614.9"/><use href="#xb" x="424.4" y="1615.9"/><use href="#xb" x="426.7" y="1617.7"/><use href="#xb" x="429.1" y="1617.7"/><use href="#xb" x="431.1" y="1618.7"/><use href="#xb" x="433.7" y="1621.4"/><use href="#xb" x="435.7" y="1623.1"/><use href="#xb" x="438.9" y="1621.5"/><use href="#xb" x="440.6" y="1626.5"/><use href="#xb" x="442.6" y="1624.8"/><use href="#xb" x="445.2" y="1627.9"/><use href="#xb" x="446.8" y="1629.4"/><use href="#xb" x="450.4" y="1630.5"/><use href="#xb" x="452.2" y="1632.8"/><use href="#xb" x="453.5" y="1635.0"/><use href="#xb" x="456.5" y="1635.0"/><use href="#xb" x="458.8" y="1636.3"/><use href="#xb" x="460.5" y="1639.6"/><use href="#xb" x="463.4" y="1636.8"/><use href="#xb" x="465.0" y="1644.4"/><use href="#xb" x="468.2" y="1642.5"/><use href="#xb" x="469.7" y="1643.8"/><use href="#xb" x="472.6" y="1646.0"/><use href="#xb" x="474.0" y="1646.7"/><use href="#xb" x="475.8" y="1649.8"/><use href="#xb" x="478.9" y="1649.3"/><use href="#xb" x="481.6" y="1650.9"/><use href="#xb" x="482.8" y="1653.9"/><use href="#xb" x="485.4" y="1658.3"/><use href="#xb" x="487.7" y="1655.4"/><use href="#xb" x="490.1" y="1658.5"/><use href="#xb" x="492.7" y="1657.8"/><use href="#xb" x="494.9" y="1657.9"/><use href="#xb" x="496.4" y="1659.6"/><use href="#xb" x="498.8" y="1664.4"/><use href="#xb" x="501.8" y="1667.2"/><use href="#xb" x="502.9" y="1665.9"/><use href="#xb" x="505.4" y="1668.3"/><use href="#xb" x="507.9" y="1669.8"/><use href="#xb" x="509.4" y="1671.0"/><use href="#xb" x="512.4" y="1671.9"/><use href="#xb" x="514.1" y="1673.3"/><use href="#xb" x="517.0" y="1675.2"/><use href="#xb" x="519.4" y="1678.8"/><use href="#xb" x="520.7" y="1681.1"/><use href="#xb" x="524.1" y="1678.7"/><use href="#xb" x="525.4" y="1678.4"/><use href="#xb" x="528.7" y="1681.6"/><use href="#xb" x="530.6" y="1680.5"/><use href="#xb" x="531.8" y="1686.1"/><use href="#xb" x="535.4" y="1687.6"/><use href="#xb" x="536.9" y="1688.6"/><use href="#xb" x="538.8" y="1688.8"/><use href="#xb" x="541.1" y="1691.2"/><use href="#xb" x="544.1" y="1691.7"/><use href="#xb" x="545.1" y="1696.0"/><use href="#xb" x="548.8" y="1691.8"/><use href="#xb" x="550.4" y="1696.6"/><use href="#xb" x="553.1" y="1697.0"/><use href="#xb" x="554.5" y="1696.5"/><use href="#xb" x="557.6" y="1701.6"/><use href="#xb" x="559.1" y="1699.0"/><use href="#xb" x="562.2" y="1705.4"/><use href="#xb" x="563.4" y="1698.6"/><use href="#xb" x="566.1" y="1713.7"/><use href="#xb" x="568.6" y="1703.6"/><use href="#xb" x="570.6" y="1706.5"/><use href="#xb" x="572.2" y="1710.9"/><use href="#xb" x="574.4" y="1707.2"/><use href="#xb" x="576.7" y="1715.4"/><use href="#xb" x="579.4" y="1711.6"/><use href="#xb" x="582.1" y="1710.4"/><use href="#xb" x="583.9" y="1716.0"/><use href="#xb" x="586.4" y="1717.7"/><use href="#xb" x="589.0" y="1721.2"/><use href="#xb" x="590.2" y="1724.3"/><use href="#xb" x="592.7" y="1722.9"/><use href="#xb" x="595.5" y="1725.4"/><use href="#xb" x="597.4" y="1722.4"/><use href="#xb" x="600.2" y="1724.6"/><use href="#xb" x="601.9" y="1724.8"/><use href="#xb" x="603.9" y="1724.6"/><use href="#xb" x="606.3" y="1726.1"/><use href="#xb" x="608.7" y="1729.0"/><use href="#xb" x="610.2" y="1737.5"/><use href="#xb" x="613.2" y="1733.4"/><use href="#xb" x="615.4" y="1737.3"/><use href="#xb" x="617.2" y="1739.7"/><use href="#xb" x="619.8" y="1743.2"/><use href="#xb" x="622.5" y="1741.9"/><use href="#xb" x="623.6" y="1745.7"/><use href="#xb" x="626.0" y="1740.6"/><use href="#xb" x="627.9" y="1746.2"/><use href="#xb" x="631.2" y="1743.4"/><use href="#xb" x="633.2" y="1746.0"/><use href="#xb" x="634.8" y="1743.9"/><use href="#xb" x="638.3" y="1747.9"/><use href="#xb" x="640.5" y="1758.3"/><use href="#xb" x="642.2" y="1752.2"/><use href="#xb" x="643.7" y="1751.9"/><use href="#xb" x="645.9" y="1756.0"/><use href="#xb" x="649.0" y="1756.6"/><use href="#xb" x="651.5" y="1749.9"/><use href="#xb" x="652.6" y="1760.1"/><use href="#xb" x="655.2" y="1761.0"/><use href="#xb" x="658.1" y="1765.2"/><use href="#xb" x="660.0" y="1764.5"/><use href="#xb" x="662.4" y="1761.6"/><use href="#xb" x="664.2" y="1769.6"/><use href="#xb" x="666.6" y="1762.3"/><use href="#xb" x="669.5" y="1771.4"/><use href="#xb" x="671.7" y="1770.3"/><use href="#xb" x="673.3" y="1777.7"/><use href="#xb" x="676.2" y="1775.3"/><use href="#xb" x="677.5" y="1771.1"/><use href="#xb" x="680.5" y="1782.0"/><use href="#xb" x="682.9" y="1777.7"/><use href="#xb" x="685.3" y="1777.3"/><use href="#xb" x="687.2" y="1776.9"/><use href="#xb" x="688.9" y="1784.3"/><use href="#xb" x="690.6" y="1788.6"/><use href="#xb" x="694.1" y="1785.2"/><use href="#xb" x="696.5" y="1784.7"/><use href="#xb" x="697.7" y="1790.6"/><use href="#xb" x="700.3" y="1780.7"/><use href="#xb" x="702.2" y="1789.1"/><use href="#xb" x="704.6" y="1791.7"/><use href="#xb" x="706.4" y="1787.6"/><use href="#xb" x="709.3" y="1798.4"/><use href="#xb" x="711.5" y="1791.1"/><use href="#xb" x="713.7" y="1805.4"/><use href="#xb" x="715.9" y="1801.5"/><use href="#xb" x="718.0" y="1796.6"/><use href="#xb" x="721.2" y="1799.6"/><use href="#xb" x="722.5" y="1796.6"/><use href="#xb" x="725.3" y="1806.7"/><use href="#xb" x="726.6" y="1799.6"/><use href="#xb" x="729.4" y="1815.7"/><use href="#xb" x="731.2" y="1804.7"/><use href="#xb" x="733.2" y="1811.0"/><use href="#xb" x="736.4" y="1805.4"/><use href="#xb" x="738.7" y="1808.8"/><use href="#xb" x="740.6" y="1805.4"/><use href="#xb" x="742.5" y="1823.5"/><use href="#xb" x="745.7" y="1809.6"/><use href="#xb" x="747.5" y="1813.3"/><use href="#xb" x="749.3" y="1806.0"/><use href="#xb" x="751.5" y="1814.1"/><use href="#xb" x="754.1" y="1826.3"/><use href="#xb" x="756.0" y="1830.4"/><use href="#xb" x="757.9" y="1826.3"/><use href="#xb" x="760.1" y="1830.4"/><use href="#xb" x="763.2" y="1823.5"/><use href="#xb" x="764.9" y="1823.5"/><use href="#xb" x="766.7" y="1829.3"/><use href="#xb" x="769.2" y="1824.4"/><use href="#xb" x="771.3" y="1839.4"/><use href="#xb" x="774.5" y="1828.3"/><use href="#xb" x="776.9" y="1831.4"/><use href="#xb" x="779.0" y="1827.3"/><use href="#xb" x="781.1" y="1839.4"/><use href="#xb" x="783.2" y="1863.6"/><use href="#xb" x="785.6" y="1830.4"/><use href="#xb" x="787.6" y="1833.6"/><use href="#xb" x="789.3" y="1838.2"/><use href="#xb" x="792.2" y="1853.3"/><use href="#xb" x="794.1" y="1834.7"/><use href="#xb" x="797.2" y="1840.7"/><use href="#xb" x="798.2" y="1839.4"/><use href="#xb" x="800.3" y="1844.6"/><use href="#xb" x="803.3" y="1858.2"/><use href="#xb" x="805.1" y="1867.5"/><use href="#xb" x="807.7" y="1858.2"/><use href="#xb" x="810.2" y="1853.3"/><use href="#xb" x="812.5" y="1854.9"/><use href="#xb" x="815.1" y="1847.3"/><use href="#xb" x="816.4" y="1856.5"/><use href="#xb" x="818.2" y="1851.7"/><use href="#xb" x="821.1" y="1856.5"/><use href="#xb" x="822.8" y="1869.6"/><use href="#xb" x="825.1" y="1873.9"/><use href="#xb" x="827.5" y="1867.5"/><use href="#xb" x="830.7" y="1878.6"/><use href="#xb" x="831.9" y="1865.5"/><use href="#xb" x="835.2" y="1886.5"/><use href="#xb" x="836.2" y="1871.7"/><use href="#xb" x="838.8" y="1865.5"/><use href="#xb" x="840.5" y="1889.4"/><use href="#xb" x="844.0" y="1878.6"/><use href="#xb" x="845.6" y="1865.5"/><use href="#xb" x="848.3" y="1889.4"/><use href="#xb" x="850.2" y="1863.6"/><use href="#xb" x="852.4" y="1886.5"/><use href="#xb" x="855.4" y="1883.8"/><use href="#xb" x="856.6" y="1899.2"/><use href="#xb" x="859.9" y="1895.7"/><use href="#xb" x="861.1" y="1886.5"/><use href="#xb" x="863.2" y="1878.6"/><use href="#xb" x="866.3" y="1910.9"/><use href="#xb" x="867.7" y="1906.7"/><use href="#xb" x="870.8" y="1895.7"/><use href="#xb" x="872.1" y="1920.4"/><use href="#xb" x="874.6" y="1906.7"/><use href="#xb" x="876.7" y="1895.7"/><use href="#xb" x="878.6" y="1899.2"/><use href="#xb" x="881.5" y="1889.4"/><use href="#xb" x="884.1" y="1895.7"/><use href="#xb" x="886.5" y="1906.7"/><use href="#xb" x="887.8" y="1886.5"/><use href="#xb" x="891.1" y="1895.7"/><use href="#xb" x="892.1" y="1895.7"/><use href="#xb" x="895.2" y="1910.9"/><use href="#xb" x="897.8" y="1920.4"/><use href="#xb" x="899.8" y="1915.4"/><use href="#xb" x="900.9" y="1920.4"/><use href="#xb" x="903.8" y="1959.8"/><use href="#xb" x="905.6" y="1915.4"/><use href="#xb" x="908.4" y="1968.9"/><use href="#xb" x="910.4" y="1931.7"/><use href="#xb" x="913.4" y="1915.4"/><use href="#xb" x="914.7" y="1920.4"/><use href="#xb" x="917.3" y="1915.4"/><use href="#xb" x="919.4" y="1954.6"/><use href="#xb" x="921.6" y="1931.7"/><use href="#xb" x="923.4" y="1948.2"/><use href="#xb" x="926.6" y="1938.4"/><use href="#xb" x="927.9" y="1951.7"/><use href="#xb" x="931.1" y="1938.4"/><use href="#xb" x="933.7" y="1954.6"/><use href="#xb" x="934.7" y="1982.9"/><use href="#xb" x="938.2" y="1954.6"/><use href="#xb" x="939.5" y="1957.6"/><use href="#xb" x="941.5" y="1931.7"/><use href="#xb" x="944.4" y="1941.9"/><use href="#xb" x="946.7" y="2010.8"/><use href="#xb" x="948.1" y="1938.4"/><use href="#xb" x="951.5" y="1948.0"/><use href="#xb" x="952.9" y="1954.6"/><use href="#xb" x="955.2" y="1993.9"/><use href="#xb" x="957.7" y="1945.9"/><use href="#xb" x="960.5" y="2016.8"/><use href="#xb" x="962.2" y="1954.6"/><use href="#xb" x="964.9" y="1965.0"/><use href="#xb" x="966.1" y="1945.9"/><use href="#xb" x="968.4" y="1977.6"/><use href="#xb" x="970.4" y="1965.0"/><use href="#xb" x="973.6" y="1977.6"/><use href="#xb" x="976.0" y="1954.6"/><use href="#xb" x="977.7" y="1965.0"/><use href="#xb" x="980.5" y="1957.0"/><use href="#xb" x="981.8" y="1953.7"/><use href="#xb" x="985.0" y="1959.6"/><use href="#xb" x="987.3" y="2000.1"/><use href="#xb" x="989.3" y="2056.0"/><use href="#xb" x="991.9" y="1994.8"/><use href="#xb" x="993.6" y="1993.9"/><use href="#xb" x="996.2" y="1981.7"/><use href="#xb" x="997.9" y="2058.3"/><use href="#xb" x="999.8" y="1953.3"/><use href="#xb" x="1002.4" y="1980.8"/><use href="#xb" x="1004.9" y="2049.2"/><use href="#xb" x="1007.0" y="2016.8"/><use href="#xb" x="1008.8" y="1938.4"/><use href="#xb" x="1011.8" y="2016.8"/><use href="#xb" x="1013.2" y="1977.6"/><use href="#xb" x="1015.3" y="2005.6"/><use href="#xb" x="1018.1" y="2016.8"/><use href="#xb" x="1019.7" y="1994.2"/><use href="#xb" x="1027.2" y="1982.2"/><use href="#xb" x="1031.3" y="2011.2"/><use href="#xb" x="1035.9" y="1996.6"/><use href="#xb" x="1038.1" y="1993.9"/><use href="#xb" x="1040.8" y="2016.8"/><use href="#xb" x="1042.3" y="2056.0"/><use href="#xb" x="1044.6" y="2056.8"/><use href="#xb" x="1049.5" y="2070.9"/><use href="#xb" x="1053.1" y="2006.6"/><use href="#xb" x="1056.3" y="2060.6"/><use href="#xb" x="1058.8" y="2016.8"/><use href="#xb" x="1060.8" y="1993.9"/><use href="#xb" x="1062.5" y="1985.4"/><use href="#xb" x="1067.5" y="1984.6"/><use href="#xb" x="1069.5" y="1983.0"/><use href="#xb" x="1071.9" y="2016.8"/><use href="#xb" x="1073.4" y="2028.5"/><use href="#xb" x="1075.5" y="2002.6"/><use href="#xb" x="1081.1" y="2056.0"/><use href="#xb" x="1083.0" y="2033.9"/><use href="#xb" x="1084.8" y="1998.4"/><use href="#xb" x="1091.8" y="2056.0"/><use href="#xb" x="1094.0" y="2045.2"/><use href="#xb" x="1096.2" y="1973.5"/><use href="#xb" x="1098.0" y="2056.0"/><use href="#xb" x="1103.2" y="2056.0"/><use href="#xb" x="1107.4" y="2087.5"/><use href="#xb" x="1109.5" y="2016.8"/><use href="#xb" x="1114.2" y="2016.8"/><use href="#xb" x="1121.2" y="2016.8"/><use href="#xb" x="1138.2" y="2016.8"/><use href="#xb" x="1143.3" y="1993.9"/><use href="#xb" x="1145.3" y="1989.2"/><use href="#xb" x="1154.8" y="2048.9"/><use href="#xb" x="1156.2" y="2056.0"/><use href="#xb" x="1159.2" y="2016.8"/><use href="#xb" x="1181.0" y="2056.0"/><use href="#xb" x="1190.4" y="2053.3"/><use href="#xb" x="1198.5" y="2056.0"/><use href="#xb" x="1201.0" y="1995.2"/><use href="#xb" x="1214.6" y="2051.1"/><use href="#xb" x="1226.1" y="2043.6"/><use href="#xb" x="1227.8" y="2016.8"/><use href="#xb" x="1234.4" y="2049.2"/><use href="#xb" x="1236.7" y="2056.0"/><use href="#xb" x="1248.4" y="2074.5"/><use href="#xb" x="1254.9" y="2053.5"/><use href="#xb" x="1257.5" y="2056.0"/><use href="#xb" x="1259.0" y="2056.0"/><use href="#xb" x="1174.6" y="1992.1"/><use href="#xb" x="1153.5" y="2055.4"/><use href="#xb" x="1149.7" y="1997.9"/><use href="#xb" x="1093.2" y="1999.2"/><use href="#xb" x="1076.1" y="2017.7"/><use href="#xb" x="1137.1" y="2056.5"/><use href="#xb" x="1134.1" y="1989.1"/><use href="#xb" x="1163.4" y="2022.6"/><use href="#xb" x="1033.4" y="1991.1"/><use href="#xb" x="1115.4" y="2003.9"/><use href="#xb" x="1012.1" y="1980.2"/><use href="#xb" x="1170.8" y="1992.9"/><use href="#xb" x="1084.2" y="1977.7"/><use href="#xb" x="1001.7" y="2012.1"/><use href="#xb" x="1122.4" y="1993.7"/><use href="#xb" x="1128.0" y="2047.3"/><use href="#xb" x="1185.6" y="1974.1"/><use href="#xb" x="1063.5" y="2018.8"/><use href="#xb" x="1024.6" y="2015.9"/><use href="#xb" x="1082.6" y="1980.4"/><use href="#xb" x="1043.6" y="2060.3"/><use href="#xb" x="1009.5" y="2051.0"/><use href="#xb" x="1043.6" y="1968.9"/><use href="#xb" x="1027.5" y="2021.2"/><use href="#xb" x="1296.0" y="2062.0"/><use href="#xb" x="1337.0" y="2051.0"/><use href="#xb" x="1344.0" y="2046.0"/><use href="#xb" x="1334.0" y="2066.0"/><use href="#xb" x="1367.0" y="2072.0"/><use href="#xb" x="1382.0" y="2067.0"/><use href="#xb" x="1437.0" y="2064.4"/><use href="#xb" x="1462.0" y="2052.0"/><use href="#xb" x="1404.4" y="2112.0"/><use href="#xb" x="1334.4" y="2134.4"/><use href="#xb" x="1007.0" y="2052.0"/><use href="#xb" x="1037.0" y="2059.0"/><use href="#xb" x="1069.0" y="2072.0"/><use href="#xb" x="1074.4" y="2099.4"/><use href="#xb" x="1089.0" y="2069.0"/><use href="#xb" x="1174.0" y="2117.0"/><use href="#xb" x="1184.0" y="2127.0"/><use href="#xb" x="1194.0" y="2137.0"/><use href="#xb" x="1209.4" y="2119.4"/><use href="#xb" x="1149.4" y="2179.4"/><use href="#xb" x="1054.4" y="2197.0"/><use href="#xb" x="1142.0" y="2204.4"/><use href="#xb" x="1152.0" y="2087.0"/><use href="#xb" x="1184.0" y="2079.0"/><use href="#xb" x="1234.0" y="2067.0"/><use href="#xb" x="1057.0" y="1944.0"/><use href="#xb" x="1066.0" y="1959.0"/><use href="#xb" x="1257.0" y="2017.0"/><use href="#xb" x="1206.0" y="2016.0"/><use href="#xb" x="1227.0" y="2012.0"/><use href="#xb" x="1227.0" y="2024.0"/><use href="#xb" x="1224.0" y="2054.0"/><use href="#xb" x="1258.0" y="2055.0"/></g>
<polyline points="194.6,1393.6 200.2,1400.0 205.8,1406.4 211.4,1412.6 217.0,1418.8 222.6,1424.9 228.2,1431.0 233.8,1437.0 239.3,1442.9 244.9,1448.8 250.5,1454.6 256.1,1460.3 261.7,1466.0 267.3,1471.7 272.9,1477.3 278.5,1482.8 284.1,1488.3 289.7,1493.7 295.3,1499.1 300.9,1504.4 306.5,1509.7 312.1,1514.9 317.7,1520.1 323.3,1525.2 328.9,1530.3 334.4,1535.4 340.0,1540.4 345.6,1545.3 351.2,1550.3 356.8,1555.1 362.4,1560.0 368.0,1564.8 373.6,1569.5 379.2,1574.2 384.8,1578.9 390.4,1583.6 396.0,1588.2 401.6,1592.7 407.2,1597.3 412.8,1601.8 418.4,1606.2 423.9,1610.6 429.5,1615.0 435.1,1619.4 440.7,1623.7 446.3,1628.0 451.9,1632.3 457.5,1636.5 463.1,1640.7 468.7,1644.9 474.3,1649.0 479.9,1653.1 485.5,1657.2 491.1,1661.3 496.7,1665.3 502.3,1669.3 507.9,1673.2 513.4,1677.2 519.0,1681.1 524.6,1685.0 530.2,1688.8 535.8,1692.7 541.4,1696.5 547.0,1700.3 552.6,1704.0 558.2,1707.8 563.8,1711.5 569.4,1715.2 575.0,1718.8 580.6,1722.5 586.2,1726.1 591.8,1729.7 597.4,1733.3 602.9,1736.8 608.5,1740.3 614.1,1743.9 619.7,1747.3 625.3,1750.8 630.9,1754.2 636.5,1757.7 642.1,1761.1 647.7,1764.5 653.3,1767.8 658.9,1771.2 664.5,1774.5 670.1,1777.8 675.7,1781.1 681.3,1784.4 686.9,1787.6 692.4,1790.8 698.0,1794.1 703.6,1797.3 709.2,1800.4 714.8,1803.6 720.4,1806.7 726.0,1809.9 731.6,1813.0 737.2,1816.1 742.8,1819.1 748.4,1822.2 754.0,1825.2 759.6,1828.3 765.2,1831.3 770.8,1834.3 776.4,1837.3 781.9,1840.2 787.5,1843.2 793.1,1846.1 798.7,1849.0 804.3,1851.9 809.9,1854.8 815.5,1857.7 821.1,1860.6 826.7,1863.4 832.3,1866.3 837.9,1869.1 843.5,1871.9 849.1,1874.7 854.7,1877.5 860.3,1880.2 865.9,1883.0 871.4,1885.7 877.0,1888.4 882.6,1891.2 888.2,1893.9 893.8,1896.5 899.4,1899.2 905.0,1901.9 910.6,1904.5 916.2,1907.2 921.8,1909.8 927.4,1912.4 933.0,1915.0 938.6,1917.6 944.2,1920.2 949.8,1922.8 955.4,1925.3 960.9,1927.9 966.5,1930.4 972.1,1932.9 977.7,1935.4 983.3,1937.9 988.9,1940.4 994.5,1942.9 1000.1,1945.4 1005.7,1947.8 1011.3,1950.3 1016.9,1952.7 1022.5,1955.1 1028.1,1957.6 1033.7,1960.0 1039.3,1962.4 1044.8,1964.8 1050.4,1967.1 1056.0,1969.5 1061.6,1971.9 1067.2,1974.2 1072.8,1976.5 1078.4,1978.9 1084.0,1981.2 1089.6,1983.5 1095.2,1985.8 1100.8,1988.1 1106.4,1990.4 1112.0,1992.7 1117.6,1994.9 1123.2,1997.2 1128.8,1999.4 1134.3,2001.7 1139.9,2003.9 1145.5,2006.1 1151.1,2008.3 1156.7,2010.5 1162.3,2012.7 1167.9,2014.9 1173.5,2017.1 1179.1,2019.3 1184.7,2021.4 1190.3,2023.6 1195.9,2025.7 1201.5,2027.9 1207.1,2030.0 1212.7,2032.1 1218.3,2034.2 1223.8,2036.3 1229.4,2038.4 1235.0,2040.5 1240.6,2042.6 1246.2,2044.7 1251.8,2046.8 1257.4,2048.8 1263.0,2050.9 1268.6,2052.9 1274.2,2055.0 1279.8,2057.0 1285.4,2059.0 1291.0,2061.0 1296.6,2063.1 1302.2,2065.1 1307.8,2067.1 1313.3,2069.1 1318.9,2071.0 1324.5,2073.0 1330.1,2075.0 1335.7,2076.9 1341.3,2078.9 1346.9,2080.9 1352.5,2082.8 1358.1,2084.7 1363.7,2086.7 1369.3,2088.6 1374.9,2090.5 1380.5,2092.4 1386.1,2094.3 1391.7,2096.2 1397.3,2098.1 1402.8,2100.0 1408.4,2101.9 1414.0,2103.8 1419.6,2105.6 1425.2,2107.5 1430.8,2109.3 1436.4,2111.2 1442.0,2113.0 1447.6,2114.9 1453.2,2116.7 1458.8,2118.5 1464.4,2120.4 1470.0,2122.2 1475.6,2124.0 1481.2,2125.8 1486.8,2127.6 1492.3,2129.4 1497.9,2131.2 1503.5,2132.9 1509.1,2134.7 1514.7,2136.5 1520.3,2138.2 1525.9,2140.0 1531.5,2141.8 1537.1,2143.5" fill="none" stroke="#ff0000" stroke-width="6.5" stroke-linecap="square"/>
<use href="#pb" x="1459.5" y="1277.5"/><use href="#xb" x="1459.5" y="1315.1"/>
<path d="M1417 1351.8H1502.5" stroke="#ff0000" stroke-width="6.6" stroke-linecap="round" fill="none"/>
</g>
</svg></body></html>
